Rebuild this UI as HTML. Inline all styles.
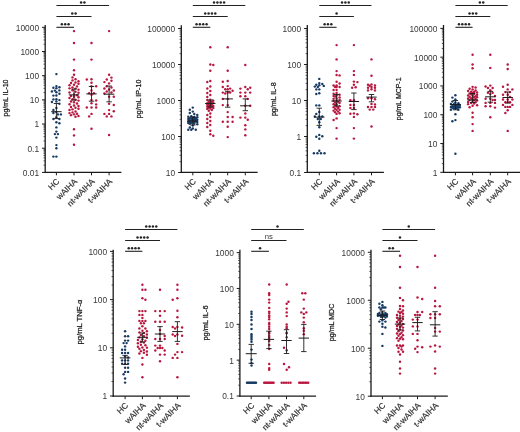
<!DOCTYPE html>
<html><head><meta charset="utf-8"><style>
html,body{margin:0;padding:0;background:#fff;}
svg{display:block;will-change:transform;}
text{font-family:"Liberation Sans", sans-serif;}
</style></head><body>
<svg width="520" height="432" viewBox="0 0 520 432">
<rect width="520" height="432" fill="#fff"/>
<line x1="45.20" y1="25.00" x2="45.20" y2="172.90" stroke="#1a1a1a" stroke-width="1.3"/>
<line x1="44.60" y1="172.30" x2="121.40" y2="172.30" stroke="#1a1a1a" stroke-width="1.3"/>
<line x1="42.00" y1="172.40" x2="45.20" y2="172.40" stroke="#1a1a1a" stroke-width="1.0"/>
<text x="39.10" y="175.80" font-size="8.4" text-anchor="end" fill="#383838">0.01</text>
<line x1="43.50" y1="165.12" x2="45.20" y2="165.12" stroke="#1a1a1a" stroke-width="0.7"/>
<line x1="43.50" y1="160.86" x2="45.20" y2="160.86" stroke="#1a1a1a" stroke-width="0.7"/>
<line x1="43.50" y1="157.84" x2="45.20" y2="157.84" stroke="#1a1a1a" stroke-width="0.7"/>
<line x1="43.50" y1="155.50" x2="45.20" y2="155.50" stroke="#1a1a1a" stroke-width="0.7"/>
<line x1="43.50" y1="153.58" x2="45.20" y2="153.58" stroke="#1a1a1a" stroke-width="0.7"/>
<line x1="43.50" y1="151.97" x2="45.20" y2="151.97" stroke="#1a1a1a" stroke-width="0.7"/>
<line x1="43.50" y1="150.56" x2="45.20" y2="150.56" stroke="#1a1a1a" stroke-width="0.7"/>
<line x1="43.50" y1="149.33" x2="45.20" y2="149.33" stroke="#1a1a1a" stroke-width="0.7"/>
<line x1="42.00" y1="148.22" x2="45.20" y2="148.22" stroke="#1a1a1a" stroke-width="1.0"/>
<text x="39.10" y="151.62" font-size="8.4" text-anchor="end" fill="#383838">0.1</text>
<line x1="43.50" y1="140.94" x2="45.20" y2="140.94" stroke="#1a1a1a" stroke-width="0.7"/>
<line x1="43.50" y1="136.68" x2="45.20" y2="136.68" stroke="#1a1a1a" stroke-width="0.7"/>
<line x1="43.50" y1="133.66" x2="45.20" y2="133.66" stroke="#1a1a1a" stroke-width="0.7"/>
<line x1="43.50" y1="131.32" x2="45.20" y2="131.32" stroke="#1a1a1a" stroke-width="0.7"/>
<line x1="43.50" y1="129.40" x2="45.20" y2="129.40" stroke="#1a1a1a" stroke-width="0.7"/>
<line x1="43.50" y1="127.79" x2="45.20" y2="127.79" stroke="#1a1a1a" stroke-width="0.7"/>
<line x1="43.50" y1="126.38" x2="45.20" y2="126.38" stroke="#1a1a1a" stroke-width="0.7"/>
<line x1="43.50" y1="125.15" x2="45.20" y2="125.15" stroke="#1a1a1a" stroke-width="0.7"/>
<line x1="42.00" y1="124.04" x2="45.20" y2="124.04" stroke="#1a1a1a" stroke-width="1.0"/>
<text x="39.10" y="127.44" font-size="8.4" text-anchor="end" fill="#383838">1</text>
<line x1="43.50" y1="116.76" x2="45.20" y2="116.76" stroke="#1a1a1a" stroke-width="0.7"/>
<line x1="43.50" y1="112.50" x2="45.20" y2="112.50" stroke="#1a1a1a" stroke-width="0.7"/>
<line x1="43.50" y1="109.48" x2="45.20" y2="109.48" stroke="#1a1a1a" stroke-width="0.7"/>
<line x1="43.50" y1="107.14" x2="45.20" y2="107.14" stroke="#1a1a1a" stroke-width="0.7"/>
<line x1="43.50" y1="105.22" x2="45.20" y2="105.22" stroke="#1a1a1a" stroke-width="0.7"/>
<line x1="43.50" y1="103.61" x2="45.20" y2="103.61" stroke="#1a1a1a" stroke-width="0.7"/>
<line x1="43.50" y1="102.20" x2="45.20" y2="102.20" stroke="#1a1a1a" stroke-width="0.7"/>
<line x1="43.50" y1="100.97" x2="45.20" y2="100.97" stroke="#1a1a1a" stroke-width="0.7"/>
<line x1="42.00" y1="99.86" x2="45.20" y2="99.86" stroke="#1a1a1a" stroke-width="1.0"/>
<text x="39.10" y="103.26" font-size="8.4" text-anchor="end" fill="#383838">10</text>
<line x1="43.50" y1="92.58" x2="45.20" y2="92.58" stroke="#1a1a1a" stroke-width="0.7"/>
<line x1="43.50" y1="88.32" x2="45.20" y2="88.32" stroke="#1a1a1a" stroke-width="0.7"/>
<line x1="43.50" y1="85.30" x2="45.20" y2="85.30" stroke="#1a1a1a" stroke-width="0.7"/>
<line x1="43.50" y1="82.96" x2="45.20" y2="82.96" stroke="#1a1a1a" stroke-width="0.7"/>
<line x1="43.50" y1="81.04" x2="45.20" y2="81.04" stroke="#1a1a1a" stroke-width="0.7"/>
<line x1="43.50" y1="79.43" x2="45.20" y2="79.43" stroke="#1a1a1a" stroke-width="0.7"/>
<line x1="43.50" y1="78.02" x2="45.20" y2="78.02" stroke="#1a1a1a" stroke-width="0.7"/>
<line x1="43.50" y1="76.79" x2="45.20" y2="76.79" stroke="#1a1a1a" stroke-width="0.7"/>
<line x1="42.00" y1="75.68" x2="45.20" y2="75.68" stroke="#1a1a1a" stroke-width="1.0"/>
<text x="39.10" y="79.08" font-size="8.4" text-anchor="end" fill="#383838">100</text>
<line x1="43.50" y1="68.40" x2="45.20" y2="68.40" stroke="#1a1a1a" stroke-width="0.7"/>
<line x1="43.50" y1="64.14" x2="45.20" y2="64.14" stroke="#1a1a1a" stroke-width="0.7"/>
<line x1="43.50" y1="61.12" x2="45.20" y2="61.12" stroke="#1a1a1a" stroke-width="0.7"/>
<line x1="43.50" y1="58.78" x2="45.20" y2="58.78" stroke="#1a1a1a" stroke-width="0.7"/>
<line x1="43.50" y1="56.86" x2="45.20" y2="56.86" stroke="#1a1a1a" stroke-width="0.7"/>
<line x1="43.50" y1="55.25" x2="45.20" y2="55.25" stroke="#1a1a1a" stroke-width="0.7"/>
<line x1="43.50" y1="53.84" x2="45.20" y2="53.84" stroke="#1a1a1a" stroke-width="0.7"/>
<line x1="43.50" y1="52.61" x2="45.20" y2="52.61" stroke="#1a1a1a" stroke-width="0.7"/>
<line x1="42.00" y1="51.50" x2="45.20" y2="51.50" stroke="#1a1a1a" stroke-width="1.0"/>
<text x="39.10" y="54.90" font-size="8.4" text-anchor="end" fill="#383838">1000</text>
<line x1="43.50" y1="44.22" x2="45.20" y2="44.22" stroke="#1a1a1a" stroke-width="0.7"/>
<line x1="43.50" y1="39.96" x2="45.20" y2="39.96" stroke="#1a1a1a" stroke-width="0.7"/>
<line x1="43.50" y1="36.94" x2="45.20" y2="36.94" stroke="#1a1a1a" stroke-width="0.7"/>
<line x1="43.50" y1="34.60" x2="45.20" y2="34.60" stroke="#1a1a1a" stroke-width="0.7"/>
<line x1="43.50" y1="32.68" x2="45.20" y2="32.68" stroke="#1a1a1a" stroke-width="0.7"/>
<line x1="43.50" y1="31.07" x2="45.20" y2="31.07" stroke="#1a1a1a" stroke-width="0.7"/>
<line x1="43.50" y1="29.66" x2="45.20" y2="29.66" stroke="#1a1a1a" stroke-width="0.7"/>
<line x1="43.50" y1="28.43" x2="45.20" y2="28.43" stroke="#1a1a1a" stroke-width="0.7"/>
<line x1="42.00" y1="27.32" x2="45.20" y2="27.32" stroke="#1a1a1a" stroke-width="1.0"/>
<text x="39.10" y="30.72" font-size="8.4" text-anchor="end" fill="#383838">10000</text>
<line x1="56.40" y1="172.30" x2="56.40" y2="175.30" stroke="#1a1a1a" stroke-width="1.0"/>
<text x="60.10" y="182.10" font-size="8.3" text-anchor="end" fill="#383838" transform="rotate(-45 60.10 182.10)" stroke="#2a2a2a" stroke-width="0.18">HC</text>
<line x1="74.00" y1="172.30" x2="74.00" y2="175.30" stroke="#1a1a1a" stroke-width="1.0"/>
<text x="77.70" y="182.10" font-size="8.3" text-anchor="end" fill="#383838" transform="rotate(-45 77.70 182.10)" stroke="#2a2a2a" stroke-width="0.18">wAIHA</text>
<line x1="91.50" y1="172.30" x2="91.50" y2="175.30" stroke="#1a1a1a" stroke-width="1.0"/>
<text x="95.20" y="182.10" font-size="8.3" text-anchor="end" fill="#383838" transform="rotate(-45 95.20 182.10)" stroke="#2a2a2a" stroke-width="0.18">nt-wAIHA</text>
<line x1="109.10" y1="172.30" x2="109.10" y2="175.30" stroke="#1a1a1a" stroke-width="1.0"/>
<text x="112.80" y="182.10" font-size="8.3" text-anchor="end" fill="#383838" transform="rotate(-45 112.80 182.10)" stroke="#2a2a2a" stroke-width="0.18">t-wAIHA</text>
<text x="7.90" y="98.00" font-size="7.9" text-anchor="middle" fill="#1a1a1a" transform="rotate(-90 7.90 98.00)" textLength="37.0" lengthAdjust="spacingAndGlyphs" stroke="#1a1a1a" stroke-width="0.25">pg/mL IL-10</text>
<line x1="56.40" y1="5.50" x2="109.10" y2="5.50" stroke="#222" stroke-width="1.1"/>
<circle cx="81.08" cy="2.50" r="1.25" fill="#262626"/>
<circle cx="84.42" cy="2.50" r="1.25" fill="#262626"/>
<line x1="56.40" y1="16.50" x2="91.50" y2="16.50" stroke="#222" stroke-width="1.1"/>
<circle cx="72.28" cy="13.50" r="1.25" fill="#262626"/>
<circle cx="75.62" cy="13.50" r="1.25" fill="#262626"/>
<line x1="56.40" y1="27.30" x2="74.00" y2="27.30" stroke="#222" stroke-width="1.1"/>
<circle cx="61.85" cy="24.30" r="1.25" fill="#262626"/>
<circle cx="65.20" cy="24.30" r="1.25" fill="#262626"/>
<circle cx="68.55" cy="24.30" r="1.25" fill="#262626"/>
<circle cx="56.40" cy="74.10" r="1.22" fill="#173a63"/>
<circle cx="56.40" cy="86.10" r="1.22" fill="#173a63"/>
<circle cx="59.40" cy="87.30" r="1.22" fill="#173a63"/>
<circle cx="53.40" cy="87.80" r="1.22" fill="#173a63"/>
<circle cx="56.40" cy="88.20" r="1.22" fill="#173a63"/>
<circle cx="59.40" cy="90.40" r="1.22" fill="#173a63"/>
<circle cx="54.90" cy="90.60" r="1.22" fill="#173a63"/>
<circle cx="51.90" cy="91.50" r="1.22" fill="#173a63"/>
<circle cx="56.40" cy="92.20" r="1.22" fill="#173a63"/>
<circle cx="59.40" cy="93.80" r="1.22" fill="#173a63"/>
<circle cx="56.40" cy="95.50" r="1.22" fill="#173a63"/>
<circle cx="53.40" cy="95.60" r="1.22" fill="#173a63"/>
<circle cx="56.40" cy="99.20" r="1.22" fill="#173a63"/>
<circle cx="53.40" cy="99.40" r="1.22" fill="#173a63"/>
<circle cx="59.40" cy="100.10" r="1.22" fill="#173a63"/>
<circle cx="56.40" cy="101.50" r="1.22" fill="#173a63"/>
<circle cx="51.90" cy="102.00" r="1.22" fill="#173a63"/>
<circle cx="59.40" cy="103.80" r="1.22" fill="#173a63"/>
<circle cx="56.40" cy="108.00" r="1.22" fill="#173a63"/>
<circle cx="53.40" cy="110.00" r="1.22" fill="#173a63"/>
<circle cx="56.40" cy="112.00" r="1.22" fill="#173a63"/>
<circle cx="53.40" cy="113.00" r="1.22" fill="#173a63"/>
<circle cx="57.90" cy="114.40" r="1.22" fill="#173a63"/>
<circle cx="60.90" cy="114.40" r="1.22" fill="#173a63"/>
<circle cx="56.40" cy="117.20" r="1.22" fill="#173a63"/>
<circle cx="53.40" cy="119.00" r="1.22" fill="#173a63"/>
<circle cx="59.40" cy="119.00" r="1.22" fill="#173a63"/>
<circle cx="56.40" cy="122.30" r="1.22" fill="#173a63"/>
<circle cx="59.40" cy="123.20" r="1.22" fill="#173a63"/>
<circle cx="56.40" cy="127.40" r="1.22" fill="#173a63"/>
<circle cx="56.40" cy="131.60" r="1.22" fill="#173a63"/>
<circle cx="54.90" cy="134.10" r="1.22" fill="#173a63"/>
<circle cx="57.90" cy="134.10" r="1.22" fill="#173a63"/>
<circle cx="56.40" cy="137.60" r="1.22" fill="#173a63"/>
<circle cx="56.40" cy="145.10" r="1.22" fill="#173a63"/>
<circle cx="56.40" cy="148.30" r="1.22" fill="#173a63"/>
<circle cx="56.40" cy="156.60" r="1.22" fill="#173a63"/>
<circle cx="53.40" cy="156.60" r="1.22" fill="#173a63"/>
<circle cx="74.00" cy="31.10" r="1.22" fill="#b8173f"/>
<circle cx="74.00" cy="43.00" r="1.22" fill="#b8173f"/>
<circle cx="74.00" cy="59.60" r="1.22" fill="#b8173f"/>
<circle cx="74.00" cy="70.20" r="1.22" fill="#b8173f"/>
<circle cx="74.00" cy="74.80" r="1.22" fill="#b8173f"/>
<circle cx="72.50" cy="77.40" r="1.22" fill="#b8173f"/>
<circle cx="75.50" cy="79.20" r="1.22" fill="#b8173f"/>
<circle cx="72.50" cy="80.39" r="1.22" fill="#b8173f"/>
<circle cx="78.50" cy="81.33" r="1.22" fill="#b8173f"/>
<circle cx="75.50" cy="82.49" r="1.22" fill="#b8173f"/>
<circle cx="71.00" cy="82.95" r="1.22" fill="#b8173f"/>
<circle cx="78.50" cy="83.84" r="1.22" fill="#b8173f"/>
<circle cx="74.00" cy="84.76" r="1.22" fill="#b8173f"/>
<circle cx="69.50" cy="85.27" r="1.22" fill="#b8173f"/>
<circle cx="77.00" cy="86.40" r="1.22" fill="#b8173f"/>
<circle cx="72.50" cy="87.36" r="1.22" fill="#b8173f"/>
<circle cx="69.50" cy="88.35" r="1.22" fill="#b8173f"/>
<circle cx="75.50" cy="88.60" r="1.22" fill="#b8173f"/>
<circle cx="78.50" cy="89.63" r="1.22" fill="#b8173f"/>
<circle cx="72.50" cy="90.30" r="1.22" fill="#b8173f"/>
<circle cx="75.50" cy="91.77" r="1.22" fill="#b8173f"/>
<circle cx="69.50" cy="92.52" r="1.22" fill="#b8173f"/>
<circle cx="78.50" cy="92.82" r="1.22" fill="#b8173f"/>
<circle cx="74.00" cy="94.47" r="1.22" fill="#b8173f"/>
<circle cx="77.00" cy="95.31" r="1.22" fill="#b8173f"/>
<circle cx="71.00" cy="95.90" r="1.22" fill="#b8173f"/>
<circle cx="74.00" cy="96.72" r="1.22" fill="#b8173f"/>
<circle cx="78.50" cy="97.18" r="1.22" fill="#b8173f"/>
<circle cx="69.50" cy="97.91" r="1.22" fill="#b8173f"/>
<circle cx="72.50" cy="99.20" r="1.22" fill="#b8173f"/>
<circle cx="75.50" cy="99.65" r="1.22" fill="#b8173f"/>
<circle cx="78.50" cy="100.62" r="1.22" fill="#b8173f"/>
<circle cx="71.00" cy="101.51" r="1.22" fill="#b8173f"/>
<circle cx="74.00" cy="102.18" r="1.22" fill="#b8173f"/>
<circle cx="77.00" cy="103.41" r="1.22" fill="#b8173f"/>
<circle cx="69.50" cy="104.24" r="1.22" fill="#b8173f"/>
<circle cx="74.00" cy="105.43" r="1.22" fill="#b8173f"/>
<circle cx="78.50" cy="106.01" r="1.22" fill="#b8173f"/>
<circle cx="71.00" cy="106.97" r="1.22" fill="#b8173f"/>
<circle cx="75.50" cy="107.70" r="1.22" fill="#b8173f"/>
<circle cx="78.50" cy="108.69" r="1.22" fill="#b8173f"/>
<circle cx="72.50" cy="109.37" r="1.22" fill="#b8173f"/>
<circle cx="69.50" cy="110.07" r="1.22" fill="#b8173f"/>
<circle cx="75.50" cy="111.53" r="1.22" fill="#b8173f"/>
<circle cx="72.50" cy="112.38" r="1.22" fill="#b8173f"/>
<circle cx="69.50" cy="113.10" r="1.22" fill="#b8173f"/>
<circle cx="77.00" cy="113.84" r="1.22" fill="#b8173f"/>
<circle cx="74.00" cy="114.36" r="1.22" fill="#b8173f"/>
<circle cx="71.00" cy="115.14" r="1.22" fill="#b8173f"/>
<circle cx="78.50" cy="116.04" r="1.22" fill="#b8173f"/>
<circle cx="75.50" cy="116.71" r="1.22" fill="#b8173f"/>
<circle cx="74.00" cy="129.20" r="1.22" fill="#b8173f"/>
<circle cx="74.00" cy="135.40" r="1.22" fill="#b8173f"/>
<circle cx="74.00" cy="144.80" r="1.22" fill="#b8173f"/>
<circle cx="91.50" cy="43.00" r="1.22" fill="#b8173f"/>
<circle cx="91.50" cy="59.60" r="1.22" fill="#b8173f"/>
<circle cx="91.50" cy="79.20" r="1.22" fill="#b8173f"/>
<circle cx="86.80" cy="79.50" r="1.22" fill="#b8173f"/>
<circle cx="91.50" cy="82.70" r="1.22" fill="#b8173f"/>
<circle cx="91.50" cy="86.30" r="1.22" fill="#b8173f"/>
<circle cx="96.20" cy="86.30" r="1.22" fill="#b8173f"/>
<circle cx="91.50" cy="90.40" r="1.22" fill="#b8173f"/>
<circle cx="93.85" cy="93.30" r="1.22" fill="#b8173f"/>
<circle cx="89.15" cy="93.30" r="1.22" fill="#b8173f"/>
<circle cx="91.50" cy="94.80" r="1.22" fill="#b8173f"/>
<circle cx="91.50" cy="99.90" r="1.22" fill="#b8173f"/>
<circle cx="96.20" cy="100.50" r="1.22" fill="#b8173f"/>
<circle cx="91.50" cy="103.30" r="1.22" fill="#b8173f"/>
<circle cx="96.20" cy="104.40" r="1.22" fill="#b8173f"/>
<circle cx="91.50" cy="107.50" r="1.22" fill="#b8173f"/>
<circle cx="86.80" cy="107.50" r="1.22" fill="#b8173f"/>
<circle cx="96.20" cy="107.50" r="1.22" fill="#b8173f"/>
<circle cx="91.50" cy="113.90" r="1.22" fill="#b8173f"/>
<circle cx="89.15" cy="116.40" r="1.22" fill="#b8173f"/>
<circle cx="91.50" cy="128.75" r="1.22" fill="#b8173f"/>
<circle cx="109.10" cy="31.10" r="1.22" fill="#b8173f"/>
<circle cx="109.10" cy="74.80" r="1.22" fill="#b8173f"/>
<circle cx="111.45" cy="77.60" r="1.22" fill="#b8173f"/>
<circle cx="106.75" cy="79.50" r="1.22" fill="#b8173f"/>
<circle cx="111.45" cy="80.80" r="1.22" fill="#b8173f"/>
<circle cx="104.40" cy="82.10" r="1.22" fill="#b8173f"/>
<circle cx="109.10" cy="83.40" r="1.22" fill="#b8173f"/>
<circle cx="106.75" cy="86.30" r="1.22" fill="#b8173f"/>
<circle cx="111.45" cy="87.50" r="1.22" fill="#b8173f"/>
<circle cx="104.40" cy="88.50" r="1.22" fill="#b8173f"/>
<circle cx="109.10" cy="89.50" r="1.22" fill="#b8173f"/>
<circle cx="113.80" cy="90.50" r="1.22" fill="#b8173f"/>
<circle cx="106.75" cy="91.50" r="1.22" fill="#b8173f"/>
<circle cx="111.45" cy="92.50" r="1.22" fill="#b8173f"/>
<circle cx="104.40" cy="93.50" r="1.22" fill="#b8173f"/>
<circle cx="109.10" cy="96.70" r="1.22" fill="#b8173f"/>
<circle cx="113.80" cy="96.70" r="1.22" fill="#b8173f"/>
<circle cx="109.10" cy="103.70" r="1.22" fill="#b8173f"/>
<circle cx="113.80" cy="105.00" r="1.22" fill="#b8173f"/>
<circle cx="109.10" cy="110.10" r="1.22" fill="#b8173f"/>
<circle cx="113.80" cy="111.30" r="1.22" fill="#b8173f"/>
<circle cx="109.10" cy="113.90" r="1.22" fill="#b8173f"/>
<circle cx="104.40" cy="113.90" r="1.22" fill="#b8173f"/>
<circle cx="106.75" cy="116.40" r="1.22" fill="#b8173f"/>
<circle cx="111.45" cy="116.40" r="1.22" fill="#b8173f"/>
<circle cx="109.10" cy="135.00" r="1.22" fill="#b8173f"/>
<line x1="56.40" y1="103.50" x2="56.40" y2="118.60" stroke="#1c1c1c" stroke-width="0.9"/>
<line x1="53.70" y1="103.50" x2="59.10" y2="103.50" stroke="#1c1c1c" stroke-width="0.9"/>
<line x1="53.70" y1="118.60" x2="59.10" y2="118.60" stroke="#1c1c1c" stroke-width="0.9"/>
<line x1="51.20" y1="111.70" x2="61.60" y2="111.70" stroke="#1c1c1c" stroke-width="1.0"/>
<line x1="74.00" y1="89.00" x2="74.00" y2="100.10" stroke="#1c1c1c" stroke-width="0.9"/>
<line x1="71.30" y1="89.00" x2="76.70" y2="89.00" stroke="#1c1c1c" stroke-width="0.9"/>
<line x1="71.30" y1="100.10" x2="76.70" y2="100.10" stroke="#1c1c1c" stroke-width="0.9"/>
<line x1="68.80" y1="94.90" x2="79.20" y2="94.90" stroke="#1c1c1c" stroke-width="1.0"/>
<line x1="91.50" y1="86.50" x2="91.50" y2="101.20" stroke="#1c1c1c" stroke-width="0.9"/>
<line x1="88.80" y1="86.50" x2="94.20" y2="86.50" stroke="#1c1c1c" stroke-width="0.9"/>
<line x1="88.80" y1="101.20" x2="94.20" y2="101.20" stroke="#1c1c1c" stroke-width="0.9"/>
<line x1="86.30" y1="93.90" x2="96.70" y2="93.90" stroke="#1c1c1c" stroke-width="1.0"/>
<line x1="109.10" y1="86.00" x2="109.10" y2="101.80" stroke="#1c1c1c" stroke-width="0.9"/>
<line x1="106.40" y1="86.00" x2="111.80" y2="86.00" stroke="#1c1c1c" stroke-width="0.9"/>
<line x1="106.40" y1="101.80" x2="111.80" y2="101.80" stroke="#1c1c1c" stroke-width="0.9"/>
<line x1="103.90" y1="94.20" x2="114.30" y2="94.20" stroke="#1c1c1c" stroke-width="1.0"/>
<line x1="181.30" y1="25.20" x2="181.30" y2="172.90" stroke="#1a1a1a" stroke-width="1.3"/>
<line x1="180.70" y1="172.30" x2="257.60" y2="172.30" stroke="#1a1a1a" stroke-width="1.3"/>
<line x1="178.10" y1="172.50" x2="181.30" y2="172.50" stroke="#1a1a1a" stroke-width="1.0"/>
<text x="175.20" y="175.90" font-size="8.4" text-anchor="end" fill="#383838">10</text>
<line x1="179.60" y1="161.66" x2="181.30" y2="161.66" stroke="#1a1a1a" stroke-width="0.7"/>
<line x1="179.60" y1="155.32" x2="181.30" y2="155.32" stroke="#1a1a1a" stroke-width="0.7"/>
<line x1="179.60" y1="150.83" x2="181.30" y2="150.83" stroke="#1a1a1a" stroke-width="0.7"/>
<line x1="179.60" y1="147.34" x2="181.30" y2="147.34" stroke="#1a1a1a" stroke-width="0.7"/>
<line x1="179.60" y1="144.49" x2="181.30" y2="144.49" stroke="#1a1a1a" stroke-width="0.7"/>
<line x1="179.60" y1="142.08" x2="181.30" y2="142.08" stroke="#1a1a1a" stroke-width="0.7"/>
<line x1="179.60" y1="139.99" x2="181.30" y2="139.99" stroke="#1a1a1a" stroke-width="0.7"/>
<line x1="179.60" y1="138.15" x2="181.30" y2="138.15" stroke="#1a1a1a" stroke-width="0.7"/>
<line x1="178.10" y1="136.50" x2="181.30" y2="136.50" stroke="#1a1a1a" stroke-width="1.0"/>
<text x="175.20" y="139.90" font-size="8.4" text-anchor="end" fill="#383838">100</text>
<line x1="179.60" y1="125.66" x2="181.30" y2="125.66" stroke="#1a1a1a" stroke-width="0.7"/>
<line x1="179.60" y1="119.32" x2="181.30" y2="119.32" stroke="#1a1a1a" stroke-width="0.7"/>
<line x1="179.60" y1="114.83" x2="181.30" y2="114.83" stroke="#1a1a1a" stroke-width="0.7"/>
<line x1="179.60" y1="111.34" x2="181.30" y2="111.34" stroke="#1a1a1a" stroke-width="0.7"/>
<line x1="179.60" y1="108.49" x2="181.30" y2="108.49" stroke="#1a1a1a" stroke-width="0.7"/>
<line x1="179.60" y1="106.08" x2="181.30" y2="106.08" stroke="#1a1a1a" stroke-width="0.7"/>
<line x1="179.60" y1="103.99" x2="181.30" y2="103.99" stroke="#1a1a1a" stroke-width="0.7"/>
<line x1="179.60" y1="102.15" x2="181.30" y2="102.15" stroke="#1a1a1a" stroke-width="0.7"/>
<line x1="178.10" y1="100.50" x2="181.30" y2="100.50" stroke="#1a1a1a" stroke-width="1.0"/>
<text x="175.20" y="103.90" font-size="8.4" text-anchor="end" fill="#383838">1000</text>
<line x1="179.60" y1="89.66" x2="181.30" y2="89.66" stroke="#1a1a1a" stroke-width="0.7"/>
<line x1="179.60" y1="83.32" x2="181.30" y2="83.32" stroke="#1a1a1a" stroke-width="0.7"/>
<line x1="179.60" y1="78.83" x2="181.30" y2="78.83" stroke="#1a1a1a" stroke-width="0.7"/>
<line x1="179.60" y1="75.34" x2="181.30" y2="75.34" stroke="#1a1a1a" stroke-width="0.7"/>
<line x1="179.60" y1="72.49" x2="181.30" y2="72.49" stroke="#1a1a1a" stroke-width="0.7"/>
<line x1="179.60" y1="70.08" x2="181.30" y2="70.08" stroke="#1a1a1a" stroke-width="0.7"/>
<line x1="179.60" y1="67.99" x2="181.30" y2="67.99" stroke="#1a1a1a" stroke-width="0.7"/>
<line x1="179.60" y1="66.15" x2="181.30" y2="66.15" stroke="#1a1a1a" stroke-width="0.7"/>
<line x1="178.10" y1="64.50" x2="181.30" y2="64.50" stroke="#1a1a1a" stroke-width="1.0"/>
<text x="175.20" y="67.90" font-size="8.4" text-anchor="end" fill="#383838">10000</text>
<line x1="179.60" y1="53.66" x2="181.30" y2="53.66" stroke="#1a1a1a" stroke-width="0.7"/>
<line x1="179.60" y1="47.32" x2="181.30" y2="47.32" stroke="#1a1a1a" stroke-width="0.7"/>
<line x1="179.60" y1="42.83" x2="181.30" y2="42.83" stroke="#1a1a1a" stroke-width="0.7"/>
<line x1="179.60" y1="39.34" x2="181.30" y2="39.34" stroke="#1a1a1a" stroke-width="0.7"/>
<line x1="179.60" y1="36.49" x2="181.30" y2="36.49" stroke="#1a1a1a" stroke-width="0.7"/>
<line x1="179.60" y1="34.08" x2="181.30" y2="34.08" stroke="#1a1a1a" stroke-width="0.7"/>
<line x1="179.60" y1="31.99" x2="181.30" y2="31.99" stroke="#1a1a1a" stroke-width="0.7"/>
<line x1="179.60" y1="30.15" x2="181.30" y2="30.15" stroke="#1a1a1a" stroke-width="0.7"/>
<line x1="178.10" y1="28.50" x2="181.30" y2="28.50" stroke="#1a1a1a" stroke-width="1.0"/>
<text x="175.20" y="31.90" font-size="8.4" text-anchor="end" fill="#383838">100000</text>
<line x1="192.80" y1="172.30" x2="192.80" y2="175.30" stroke="#1a1a1a" stroke-width="1.0"/>
<text x="196.50" y="182.10" font-size="8.3" text-anchor="end" fill="#383838" transform="rotate(-45 196.50 182.10)" stroke="#2a2a2a" stroke-width="0.18">HC</text>
<line x1="210.30" y1="172.30" x2="210.30" y2="175.30" stroke="#1a1a1a" stroke-width="1.0"/>
<text x="214.00" y="182.10" font-size="8.3" text-anchor="end" fill="#383838" transform="rotate(-45 214.00 182.10)" stroke="#2a2a2a" stroke-width="0.18">wAIHA</text>
<line x1="227.70" y1="172.30" x2="227.70" y2="175.30" stroke="#1a1a1a" stroke-width="1.0"/>
<text x="231.40" y="182.10" font-size="8.3" text-anchor="end" fill="#383838" transform="rotate(-45 231.40 182.10)" stroke="#2a2a2a" stroke-width="0.18">nt-wAIHA</text>
<line x1="245.30" y1="172.30" x2="245.30" y2="175.30" stroke="#1a1a1a" stroke-width="1.0"/>
<text x="249.00" y="182.10" font-size="8.3" text-anchor="end" fill="#383838" transform="rotate(-45 249.00 182.10)" stroke="#2a2a2a" stroke-width="0.18">t-wAIHA</text>
<text x="140.60" y="98.90" font-size="7.9" text-anchor="middle" fill="#1a1a1a" transform="rotate(-90 140.60 98.90)" textLength="38.6" lengthAdjust="spacingAndGlyphs" stroke="#1a1a1a" stroke-width="0.25">pg/mL IP-10</text>
<line x1="192.80" y1="5.50" x2="245.30" y2="5.50" stroke="#222" stroke-width="1.1"/>
<circle cx="214.03" cy="2.50" r="1.25" fill="#262626"/>
<circle cx="217.38" cy="2.50" r="1.25" fill="#262626"/>
<circle cx="220.73" cy="2.50" r="1.25" fill="#262626"/>
<circle cx="224.08" cy="2.50" r="1.25" fill="#262626"/>
<line x1="192.80" y1="16.50" x2="227.70" y2="16.50" stroke="#222" stroke-width="1.1"/>
<circle cx="205.22" cy="13.50" r="1.25" fill="#262626"/>
<circle cx="208.57" cy="13.50" r="1.25" fill="#262626"/>
<circle cx="211.93" cy="13.50" r="1.25" fill="#262626"/>
<circle cx="215.28" cy="13.50" r="1.25" fill="#262626"/>
<line x1="192.80" y1="27.30" x2="210.30" y2="27.30" stroke="#222" stroke-width="1.1"/>
<circle cx="196.53" cy="24.30" r="1.25" fill="#262626"/>
<circle cx="199.88" cy="24.30" r="1.25" fill="#262626"/>
<circle cx="203.23" cy="24.30" r="1.25" fill="#262626"/>
<circle cx="206.58" cy="24.30" r="1.25" fill="#262626"/>
<circle cx="192.80" cy="107.60" r="1.22" fill="#173a63"/>
<circle cx="189.80" cy="109.80" r="1.22" fill="#173a63"/>
<circle cx="192.80" cy="111.60" r="1.22" fill="#173a63"/>
<circle cx="189.80" cy="113.00" r="1.22" fill="#173a63"/>
<circle cx="194.30" cy="114.00" r="1.22" fill="#173a63"/>
<circle cx="197.30" cy="115.04" r="1.22" fill="#173a63"/>
<circle cx="191.30" cy="116.25" r="1.22" fill="#173a63"/>
<circle cx="188.30" cy="116.70" r="1.22" fill="#173a63"/>
<circle cx="194.30" cy="117.04" r="1.22" fill="#173a63"/>
<circle cx="197.30" cy="117.31" r="1.22" fill="#173a63"/>
<circle cx="192.80" cy="117.83" r="1.22" fill="#173a63"/>
<circle cx="189.80" cy="118.14" r="1.22" fill="#173a63"/>
<circle cx="195.80" cy="118.34" r="1.22" fill="#173a63"/>
<circle cx="191.30" cy="118.61" r="1.22" fill="#173a63"/>
<circle cx="194.30" cy="118.81" r="1.22" fill="#173a63"/>
<circle cx="188.30" cy="119.01" r="1.22" fill="#173a63"/>
<circle cx="192.80" cy="119.36" r="1.22" fill="#173a63"/>
<circle cx="197.30" cy="119.66" r="1.22" fill="#173a63"/>
<circle cx="195.80" cy="119.78" r="1.22" fill="#173a63"/>
<circle cx="189.80" cy="120.20" r="1.22" fill="#173a63"/>
<circle cx="194.30" cy="120.31" r="1.22" fill="#173a63"/>
<circle cx="191.30" cy="120.55" r="1.22" fill="#173a63"/>
<circle cx="192.80" cy="120.75" r="1.22" fill="#173a63"/>
<circle cx="188.30" cy="121.24" r="1.22" fill="#173a63"/>
<circle cx="195.80" cy="121.43" r="1.22" fill="#173a63"/>
<circle cx="194.30" cy="121.72" r="1.22" fill="#173a63"/>
<circle cx="189.80" cy="121.92" r="1.22" fill="#173a63"/>
<circle cx="197.30" cy="122.04" r="1.22" fill="#173a63"/>
<circle cx="192.80" cy="122.40" r="1.22" fill="#173a63"/>
<circle cx="191.30" cy="122.76" r="1.22" fill="#173a63"/>
<circle cx="188.30" cy="122.96" r="1.22" fill="#173a63"/>
<circle cx="194.30" cy="123.62" r="1.22" fill="#173a63"/>
<circle cx="189.80" cy="123.80" r="1.22" fill="#173a63"/>
<circle cx="197.30" cy="124.17" r="1.22" fill="#173a63"/>
<circle cx="192.80" cy="125.43" r="1.22" fill="#173a63"/>
<circle cx="189.80" cy="127.50" r="1.22" fill="#173a63"/>
<circle cx="192.80" cy="128.50" r="1.22" fill="#173a63"/>
<circle cx="195.80" cy="129.80" r="1.22" fill="#173a63"/>
<circle cx="188.30" cy="129.80" r="1.22" fill="#173a63"/>
<circle cx="191.30" cy="129.80" r="1.22" fill="#173a63"/>
<circle cx="210.30" cy="47.20" r="1.22" fill="#b8173f"/>
<circle cx="210.30" cy="64.50" r="1.22" fill="#b8173f"/>
<circle cx="213.30" cy="65.00" r="1.22" fill="#b8173f"/>
<circle cx="210.30" cy="70.80" r="1.22" fill="#b8173f"/>
<circle cx="210.30" cy="81.00" r="1.22" fill="#b8173f"/>
<circle cx="207.30" cy="82.00" r="1.22" fill="#b8173f"/>
<circle cx="210.30" cy="86.50" r="1.22" fill="#b8173f"/>
<circle cx="207.30" cy="88.50" r="1.22" fill="#b8173f"/>
<circle cx="210.30" cy="91.00" r="1.22" fill="#b8173f"/>
<circle cx="207.30" cy="93.00" r="1.22" fill="#b8173f"/>
<circle cx="210.30" cy="95.00" r="1.22" fill="#b8173f"/>
<circle cx="207.30" cy="97.00" r="1.22" fill="#b8173f"/>
<circle cx="210.30" cy="99.79" r="1.22" fill="#b8173f"/>
<circle cx="207.30" cy="99.96" r="1.22" fill="#b8173f"/>
<circle cx="213.30" cy="100.63" r="1.22" fill="#b8173f"/>
<circle cx="208.80" cy="101.75" r="1.22" fill="#b8173f"/>
<circle cx="211.80" cy="101.84" r="1.22" fill="#b8173f"/>
<circle cx="210.30" cy="102.28" r="1.22" fill="#b8173f"/>
<circle cx="213.30" cy="102.94" r="1.22" fill="#b8173f"/>
<circle cx="207.30" cy="103.22" r="1.22" fill="#b8173f"/>
<circle cx="210.30" cy="103.83" r="1.22" fill="#b8173f"/>
<circle cx="208.80" cy="103.96" r="1.22" fill="#b8173f"/>
<circle cx="211.80" cy="104.61" r="1.22" fill="#b8173f"/>
<circle cx="207.30" cy="104.75" r="1.22" fill="#b8173f"/>
<circle cx="210.30" cy="105.22" r="1.22" fill="#b8173f"/>
<circle cx="208.80" cy="105.72" r="1.22" fill="#b8173f"/>
<circle cx="213.30" cy="106.01" r="1.22" fill="#b8173f"/>
<circle cx="211.80" cy="106.48" r="1.22" fill="#b8173f"/>
<circle cx="207.30" cy="106.80" r="1.22" fill="#b8173f"/>
<circle cx="210.30" cy="106.94" r="1.22" fill="#b8173f"/>
<circle cx="208.80" cy="107.72" r="1.22" fill="#b8173f"/>
<circle cx="213.30" cy="108.05" r="1.22" fill="#b8173f"/>
<circle cx="210.30" cy="108.41" r="1.22" fill="#b8173f"/>
<circle cx="207.30" cy="108.89" r="1.22" fill="#b8173f"/>
<circle cx="211.80" cy="110.03" r="1.22" fill="#b8173f"/>
<circle cx="208.80" cy="110.82" r="1.22" fill="#b8173f"/>
<circle cx="210.30" cy="113.50" r="1.22" fill="#b8173f"/>
<circle cx="207.30" cy="115.00" r="1.22" fill="#b8173f"/>
<circle cx="210.30" cy="117.00" r="1.22" fill="#b8173f"/>
<circle cx="207.30" cy="119.00" r="1.22" fill="#b8173f"/>
<circle cx="210.30" cy="121.00" r="1.22" fill="#b8173f"/>
<circle cx="207.30" cy="123.00" r="1.22" fill="#b8173f"/>
<circle cx="210.30" cy="125.00" r="1.22" fill="#b8173f"/>
<circle cx="207.30" cy="127.00" r="1.22" fill="#b8173f"/>
<circle cx="210.30" cy="130.80" r="1.22" fill="#b8173f"/>
<circle cx="210.30" cy="134.30" r="1.22" fill="#b8173f"/>
<circle cx="213.30" cy="135.70" r="1.22" fill="#b8173f"/>
<circle cx="227.70" cy="47.20" r="1.22" fill="#b8173f"/>
<circle cx="227.70" cy="70.80" r="1.22" fill="#b8173f"/>
<circle cx="227.70" cy="81.00" r="1.22" fill="#b8173f"/>
<circle cx="222.80" cy="81.70" r="1.22" fill="#b8173f"/>
<circle cx="227.70" cy="86.10" r="1.22" fill="#b8173f"/>
<circle cx="222.80" cy="87.00" r="1.22" fill="#b8173f"/>
<circle cx="230.15" cy="88.60" r="1.22" fill="#b8173f"/>
<circle cx="225.25" cy="89.20" r="1.22" fill="#b8173f"/>
<circle cx="227.70" cy="89.20" r="1.22" fill="#b8173f"/>
<circle cx="232.60" cy="90.70" r="1.22" fill="#b8173f"/>
<circle cx="227.70" cy="92.50" r="1.22" fill="#b8173f"/>
<circle cx="222.80" cy="92.60" r="1.22" fill="#b8173f"/>
<circle cx="230.15" cy="92.60" r="1.22" fill="#b8173f"/>
<circle cx="225.25" cy="93.50" r="1.22" fill="#b8173f"/>
<circle cx="227.70" cy="98.90" r="1.22" fill="#b8173f"/>
<circle cx="222.80" cy="98.90" r="1.22" fill="#b8173f"/>
<circle cx="227.70" cy="105.10" r="1.22" fill="#b8173f"/>
<circle cx="222.80" cy="105.10" r="1.22" fill="#b8173f"/>
<circle cx="227.70" cy="112.10" r="1.22" fill="#b8173f"/>
<circle cx="227.70" cy="117.00" r="1.22" fill="#b8173f"/>
<circle cx="232.60" cy="117.00" r="1.22" fill="#b8173f"/>
<circle cx="227.70" cy="121.80" r="1.22" fill="#b8173f"/>
<circle cx="232.60" cy="121.80" r="1.22" fill="#b8173f"/>
<circle cx="222.80" cy="121.80" r="1.22" fill="#b8173f"/>
<circle cx="227.70" cy="126.70" r="1.22" fill="#b8173f"/>
<circle cx="227.70" cy="137.10" r="1.22" fill="#b8173f"/>
<circle cx="245.30" cy="65.00" r="1.22" fill="#b8173f"/>
<circle cx="245.30" cy="87.00" r="1.22" fill="#b8173f"/>
<circle cx="250.20" cy="87.80" r="1.22" fill="#b8173f"/>
<circle cx="240.40" cy="88.60" r="1.22" fill="#b8173f"/>
<circle cx="247.75" cy="89.30" r="1.22" fill="#b8173f"/>
<circle cx="245.30" cy="92.60" r="1.22" fill="#b8173f"/>
<circle cx="250.20" cy="92.60" r="1.22" fill="#b8173f"/>
<circle cx="240.40" cy="92.60" r="1.22" fill="#b8173f"/>
<circle cx="245.30" cy="96.25" r="1.22" fill="#b8173f"/>
<circle cx="240.40" cy="96.25" r="1.22" fill="#b8173f"/>
<circle cx="247.75" cy="98.90" r="1.22" fill="#b8173f"/>
<circle cx="245.30" cy="105.80" r="1.22" fill="#b8173f"/>
<circle cx="250.20" cy="105.80" r="1.22" fill="#b8173f"/>
<circle cx="245.30" cy="113.50" r="1.22" fill="#b8173f"/>
<circle cx="245.30" cy="117.60" r="1.22" fill="#b8173f"/>
<circle cx="240.40" cy="117.60" r="1.22" fill="#b8173f"/>
<circle cx="247.75" cy="119.70" r="1.22" fill="#b8173f"/>
<circle cx="245.30" cy="125.30" r="1.22" fill="#b8173f"/>
<circle cx="245.30" cy="129.40" r="1.22" fill="#b8173f"/>
<circle cx="245.30" cy="135.30" r="1.22" fill="#b8173f"/>
<line x1="192.80" y1="117.00" x2="192.80" y2="125.00" stroke="#1c1c1c" stroke-width="0.9"/>
<line x1="190.10" y1="117.00" x2="195.50" y2="117.00" stroke="#1c1c1c" stroke-width="0.9"/>
<line x1="190.10" y1="125.00" x2="195.50" y2="125.00" stroke="#1c1c1c" stroke-width="0.9"/>
<line x1="187.60" y1="121.00" x2="198.00" y2="121.00" stroke="#1c1c1c" stroke-width="1.0"/>
<line x1="210.30" y1="100.00" x2="210.30" y2="107.00" stroke="#1c1c1c" stroke-width="0.9"/>
<line x1="207.60" y1="100.00" x2="213.00" y2="100.00" stroke="#1c1c1c" stroke-width="0.9"/>
<line x1="207.60" y1="107.00" x2="213.00" y2="107.00" stroke="#1c1c1c" stroke-width="0.9"/>
<line x1="205.10" y1="103.50" x2="215.50" y2="103.50" stroke="#1c1c1c" stroke-width="1.0"/>
<line x1="227.70" y1="91.30" x2="227.70" y2="107.20" stroke="#1c1c1c" stroke-width="0.9"/>
<line x1="225.00" y1="91.30" x2="230.40" y2="91.30" stroke="#1c1c1c" stroke-width="0.9"/>
<line x1="225.00" y1="107.20" x2="230.40" y2="107.20" stroke="#1c1c1c" stroke-width="0.9"/>
<line x1="222.50" y1="98.90" x2="232.90" y2="98.90" stroke="#1c1c1c" stroke-width="1.0"/>
<line x1="245.30" y1="98.90" x2="245.30" y2="110.70" stroke="#1c1c1c" stroke-width="0.9"/>
<line x1="242.60" y1="98.90" x2="248.00" y2="98.90" stroke="#1c1c1c" stroke-width="0.9"/>
<line x1="242.60" y1="110.70" x2="248.00" y2="110.70" stroke="#1c1c1c" stroke-width="0.9"/>
<line x1="240.10" y1="105.80" x2="250.50" y2="105.80" stroke="#1c1c1c" stroke-width="1.0"/>
<line x1="307.30" y1="25.00" x2="307.30" y2="172.90" stroke="#1a1a1a" stroke-width="1.3"/>
<line x1="306.70" y1="172.30" x2="383.90" y2="172.30" stroke="#1a1a1a" stroke-width="1.3"/>
<line x1="304.10" y1="172.50" x2="307.30" y2="172.50" stroke="#1a1a1a" stroke-width="1.0"/>
<text x="301.20" y="175.90" font-size="8.4" text-anchor="end" fill="#383838">0.1</text>
<line x1="305.60" y1="161.66" x2="307.30" y2="161.66" stroke="#1a1a1a" stroke-width="0.7"/>
<line x1="305.60" y1="155.32" x2="307.30" y2="155.32" stroke="#1a1a1a" stroke-width="0.7"/>
<line x1="305.60" y1="150.83" x2="307.30" y2="150.83" stroke="#1a1a1a" stroke-width="0.7"/>
<line x1="305.60" y1="147.34" x2="307.30" y2="147.34" stroke="#1a1a1a" stroke-width="0.7"/>
<line x1="305.60" y1="144.49" x2="307.30" y2="144.49" stroke="#1a1a1a" stroke-width="0.7"/>
<line x1="305.60" y1="142.08" x2="307.30" y2="142.08" stroke="#1a1a1a" stroke-width="0.7"/>
<line x1="305.60" y1="139.99" x2="307.30" y2="139.99" stroke="#1a1a1a" stroke-width="0.7"/>
<line x1="305.60" y1="138.15" x2="307.30" y2="138.15" stroke="#1a1a1a" stroke-width="0.7"/>
<line x1="304.10" y1="136.50" x2="307.30" y2="136.50" stroke="#1a1a1a" stroke-width="1.0"/>
<text x="301.20" y="139.90" font-size="8.4" text-anchor="end" fill="#383838">1</text>
<line x1="305.60" y1="125.66" x2="307.30" y2="125.66" stroke="#1a1a1a" stroke-width="0.7"/>
<line x1="305.60" y1="119.32" x2="307.30" y2="119.32" stroke="#1a1a1a" stroke-width="0.7"/>
<line x1="305.60" y1="114.83" x2="307.30" y2="114.83" stroke="#1a1a1a" stroke-width="0.7"/>
<line x1="305.60" y1="111.34" x2="307.30" y2="111.34" stroke="#1a1a1a" stroke-width="0.7"/>
<line x1="305.60" y1="108.49" x2="307.30" y2="108.49" stroke="#1a1a1a" stroke-width="0.7"/>
<line x1="305.60" y1="106.08" x2="307.30" y2="106.08" stroke="#1a1a1a" stroke-width="0.7"/>
<line x1="305.60" y1="103.99" x2="307.30" y2="103.99" stroke="#1a1a1a" stroke-width="0.7"/>
<line x1="305.60" y1="102.15" x2="307.30" y2="102.15" stroke="#1a1a1a" stroke-width="0.7"/>
<line x1="304.10" y1="100.50" x2="307.30" y2="100.50" stroke="#1a1a1a" stroke-width="1.0"/>
<text x="301.20" y="103.90" font-size="8.4" text-anchor="end" fill="#383838">10</text>
<line x1="305.60" y1="89.66" x2="307.30" y2="89.66" stroke="#1a1a1a" stroke-width="0.7"/>
<line x1="305.60" y1="83.32" x2="307.30" y2="83.32" stroke="#1a1a1a" stroke-width="0.7"/>
<line x1="305.60" y1="78.83" x2="307.30" y2="78.83" stroke="#1a1a1a" stroke-width="0.7"/>
<line x1="305.60" y1="75.34" x2="307.30" y2="75.34" stroke="#1a1a1a" stroke-width="0.7"/>
<line x1="305.60" y1="72.49" x2="307.30" y2="72.49" stroke="#1a1a1a" stroke-width="0.7"/>
<line x1="305.60" y1="70.08" x2="307.30" y2="70.08" stroke="#1a1a1a" stroke-width="0.7"/>
<line x1="305.60" y1="67.99" x2="307.30" y2="67.99" stroke="#1a1a1a" stroke-width="0.7"/>
<line x1="305.60" y1="66.15" x2="307.30" y2="66.15" stroke="#1a1a1a" stroke-width="0.7"/>
<line x1="304.10" y1="64.50" x2="307.30" y2="64.50" stroke="#1a1a1a" stroke-width="1.0"/>
<text x="301.20" y="67.90" font-size="8.4" text-anchor="end" fill="#383838">100</text>
<line x1="305.60" y1="53.66" x2="307.30" y2="53.66" stroke="#1a1a1a" stroke-width="0.7"/>
<line x1="305.60" y1="47.32" x2="307.30" y2="47.32" stroke="#1a1a1a" stroke-width="0.7"/>
<line x1="305.60" y1="42.83" x2="307.30" y2="42.83" stroke="#1a1a1a" stroke-width="0.7"/>
<line x1="305.60" y1="39.34" x2="307.30" y2="39.34" stroke="#1a1a1a" stroke-width="0.7"/>
<line x1="305.60" y1="36.49" x2="307.30" y2="36.49" stroke="#1a1a1a" stroke-width="0.7"/>
<line x1="305.60" y1="34.08" x2="307.30" y2="34.08" stroke="#1a1a1a" stroke-width="0.7"/>
<line x1="305.60" y1="31.99" x2="307.30" y2="31.99" stroke="#1a1a1a" stroke-width="0.7"/>
<line x1="305.60" y1="30.15" x2="307.30" y2="30.15" stroke="#1a1a1a" stroke-width="0.7"/>
<line x1="304.10" y1="28.50" x2="307.30" y2="28.50" stroke="#1a1a1a" stroke-width="1.0"/>
<text x="301.20" y="31.90" font-size="8.4" text-anchor="end" fill="#383838">1000</text>
<line x1="319.30" y1="172.30" x2="319.30" y2="175.30" stroke="#1a1a1a" stroke-width="1.0"/>
<text x="323.00" y="182.10" font-size="8.3" text-anchor="end" fill="#383838" transform="rotate(-45 323.00 182.10)" stroke="#2a2a2a" stroke-width="0.18">HC</text>
<line x1="336.60" y1="172.30" x2="336.60" y2="175.30" stroke="#1a1a1a" stroke-width="1.0"/>
<text x="340.30" y="182.10" font-size="8.3" text-anchor="end" fill="#383838" transform="rotate(-45 340.30 182.10)" stroke="#2a2a2a" stroke-width="0.18">wAIHA</text>
<line x1="353.90" y1="172.30" x2="353.90" y2="175.30" stroke="#1a1a1a" stroke-width="1.0"/>
<text x="357.60" y="182.10" font-size="8.3" text-anchor="end" fill="#383838" transform="rotate(-45 357.60 182.10)" stroke="#2a2a2a" stroke-width="0.18">nt-wAIHA</text>
<line x1="371.50" y1="172.30" x2="371.50" y2="175.30" stroke="#1a1a1a" stroke-width="1.0"/>
<text x="375.20" y="182.10" font-size="8.3" text-anchor="end" fill="#383838" transform="rotate(-45 375.20 182.10)" stroke="#2a2a2a" stroke-width="0.18">t-wAIHA</text>
<text x="275.80" y="99.25" font-size="7.9" text-anchor="middle" fill="#1a1a1a" transform="rotate(-90 275.80 99.25)" textLength="33.7" lengthAdjust="spacingAndGlyphs" stroke="#1a1a1a" stroke-width="0.25">pg/mL IL-8</text>
<line x1="319.30" y1="5.50" x2="371.50" y2="5.50" stroke="#222" stroke-width="1.1"/>
<circle cx="342.05" cy="2.50" r="1.25" fill="#262626"/>
<circle cx="345.40" cy="2.50" r="1.25" fill="#262626"/>
<circle cx="348.75" cy="2.50" r="1.25" fill="#262626"/>
<line x1="319.30" y1="16.50" x2="353.90" y2="16.50" stroke="#222" stroke-width="1.1"/>
<circle cx="336.60" cy="13.50" r="1.25" fill="#262626"/>
<line x1="319.30" y1="27.30" x2="336.60" y2="27.30" stroke="#222" stroke-width="1.1"/>
<circle cx="324.60" cy="24.30" r="1.25" fill="#262626"/>
<circle cx="327.95" cy="24.30" r="1.25" fill="#262626"/>
<circle cx="331.30" cy="24.30" r="1.25" fill="#262626"/>
<circle cx="319.30" cy="78.90" r="1.22" fill="#173a63"/>
<circle cx="319.30" cy="83.10" r="1.22" fill="#173a63"/>
<circle cx="322.30" cy="84.00" r="1.22" fill="#173a63"/>
<circle cx="316.30" cy="84.70" r="1.22" fill="#173a63"/>
<circle cx="319.30" cy="85.20" r="1.22" fill="#173a63"/>
<circle cx="323.80" cy="85.90" r="1.22" fill="#173a63"/>
<circle cx="314.80" cy="86.60" r="1.22" fill="#173a63"/>
<circle cx="317.80" cy="87.00" r="1.22" fill="#173a63"/>
<circle cx="319.30" cy="89.40" r="1.22" fill="#173a63"/>
<circle cx="316.30" cy="89.40" r="1.22" fill="#173a63"/>
<circle cx="319.30" cy="93.30" r="1.22" fill="#173a63"/>
<circle cx="316.30" cy="94.00" r="1.22" fill="#173a63"/>
<circle cx="319.30" cy="105.40" r="1.22" fill="#173a63"/>
<circle cx="316.30" cy="105.40" r="1.22" fill="#173a63"/>
<circle cx="319.30" cy="112.00" r="1.22" fill="#173a63"/>
<circle cx="316.30" cy="113.90" r="1.22" fill="#173a63"/>
<circle cx="319.30" cy="116.50" r="1.22" fill="#173a63"/>
<circle cx="322.30" cy="116.50" r="1.22" fill="#173a63"/>
<circle cx="314.80" cy="116.50" r="1.22" fill="#173a63"/>
<circle cx="317.80" cy="119.00" r="1.22" fill="#173a63"/>
<circle cx="320.80" cy="119.00" r="1.22" fill="#173a63"/>
<circle cx="319.30" cy="122.20" r="1.22" fill="#173a63"/>
<circle cx="319.30" cy="127.30" r="1.22" fill="#173a63"/>
<circle cx="319.30" cy="134.90" r="1.22" fill="#173a63"/>
<circle cx="322.30" cy="136.20" r="1.22" fill="#173a63"/>
<circle cx="316.30" cy="136.80" r="1.22" fill="#173a63"/>
<circle cx="319.30" cy="138.70" r="1.22" fill="#173a63"/>
<circle cx="319.30" cy="150.80" r="1.22" fill="#173a63"/>
<circle cx="313.90" cy="153.30" r="1.22" fill="#173a63"/>
<circle cx="317.43" cy="153.30" r="1.22" fill="#173a63"/>
<circle cx="320.97" cy="153.30" r="1.22" fill="#173a63"/>
<circle cx="324.50" cy="153.30" r="1.22" fill="#173a63"/>
<circle cx="336.60" cy="45.10" r="1.22" fill="#b8173f"/>
<circle cx="336.60" cy="59.40" r="1.22" fill="#b8173f"/>
<circle cx="336.60" cy="71.10" r="1.22" fill="#b8173f"/>
<circle cx="336.60" cy="75.00" r="1.22" fill="#b8173f"/>
<circle cx="339.60" cy="75.40" r="1.22" fill="#b8173f"/>
<circle cx="336.60" cy="81.70" r="1.22" fill="#b8173f"/>
<circle cx="339.60" cy="83.50" r="1.22" fill="#b8173f"/>
<circle cx="336.60" cy="85.50" r="1.22" fill="#b8173f"/>
<circle cx="333.60" cy="85.50" r="1.22" fill="#b8173f"/>
<circle cx="339.60" cy="87.00" r="1.22" fill="#b8173f"/>
<circle cx="335.10" cy="87.00" r="1.22" fill="#b8173f"/>
<circle cx="336.60" cy="87.00" r="1.22" fill="#b8173f"/>
<circle cx="336.60" cy="90.00" r="1.22" fill="#b8173f"/>
<circle cx="333.60" cy="90.00" r="1.22" fill="#b8173f"/>
<circle cx="336.60" cy="93.01" r="1.22" fill="#b8173f"/>
<circle cx="333.60" cy="93.78" r="1.22" fill="#b8173f"/>
<circle cx="339.60" cy="94.67" r="1.22" fill="#b8173f"/>
<circle cx="336.60" cy="95.58" r="1.22" fill="#b8173f"/>
<circle cx="333.60" cy="95.90" r="1.22" fill="#b8173f"/>
<circle cx="335.10" cy="96.58" r="1.22" fill="#b8173f"/>
<circle cx="339.60" cy="97.36" r="1.22" fill="#b8173f"/>
<circle cx="336.60" cy="98.43" r="1.22" fill="#b8173f"/>
<circle cx="333.60" cy="98.70" r="1.22" fill="#b8173f"/>
<circle cx="339.60" cy="99.82" r="1.22" fill="#b8173f"/>
<circle cx="336.60" cy="100.46" r="1.22" fill="#b8173f"/>
<circle cx="333.60" cy="100.80" r="1.22" fill="#b8173f"/>
<circle cx="338.10" cy="101.77" r="1.22" fill="#b8173f"/>
<circle cx="335.10" cy="102.41" r="1.22" fill="#b8173f"/>
<circle cx="339.60" cy="103.09" r="1.22" fill="#b8173f"/>
<circle cx="336.60" cy="104.20" r="1.22" fill="#b8173f"/>
<circle cx="333.60" cy="104.27" r="1.22" fill="#b8173f"/>
<circle cx="335.10" cy="104.91" r="1.22" fill="#b8173f"/>
<circle cx="339.60" cy="106.26" r="1.22" fill="#b8173f"/>
<circle cx="336.60" cy="106.58" r="1.22" fill="#b8173f"/>
<circle cx="333.60" cy="107.14" r="1.22" fill="#b8173f"/>
<circle cx="338.10" cy="107.93" r="1.22" fill="#b8173f"/>
<circle cx="335.10" cy="108.66" r="1.22" fill="#b8173f"/>
<circle cx="339.60" cy="109.77" r="1.22" fill="#b8173f"/>
<circle cx="336.60" cy="109.95" r="1.22" fill="#b8173f"/>
<circle cx="333.60" cy="110.65" r="1.22" fill="#b8173f"/>
<circle cx="338.10" cy="111.61" r="1.22" fill="#b8173f"/>
<circle cx="335.10" cy="112.28" r="1.22" fill="#b8173f"/>
<circle cx="339.60" cy="113.27" r="1.22" fill="#b8173f"/>
<circle cx="336.60" cy="113.89" r="1.22" fill="#b8173f"/>
<circle cx="336.60" cy="118.40" r="1.22" fill="#b8173f"/>
<circle cx="333.60" cy="120.00" r="1.22" fill="#b8173f"/>
<circle cx="336.60" cy="128.10" r="1.22" fill="#b8173f"/>
<circle cx="336.60" cy="138.60" r="1.22" fill="#b8173f"/>
<circle cx="353.90" cy="45.10" r="1.22" fill="#b8173f"/>
<circle cx="353.90" cy="71.10" r="1.22" fill="#b8173f"/>
<circle cx="353.90" cy="74.90" r="1.22" fill="#b8173f"/>
<circle cx="353.90" cy="81.60" r="1.22" fill="#b8173f"/>
<circle cx="357.40" cy="82.10" r="1.22" fill="#b8173f"/>
<circle cx="353.90" cy="84.70" r="1.22" fill="#b8173f"/>
<circle cx="355.65" cy="87.30" r="1.22" fill="#b8173f"/>
<circle cx="352.15" cy="87.80" r="1.22" fill="#b8173f"/>
<circle cx="353.90" cy="100.20" r="1.22" fill="#b8173f"/>
<circle cx="350.40" cy="100.20" r="1.22" fill="#b8173f"/>
<circle cx="353.90" cy="104.90" r="1.22" fill="#b8173f"/>
<circle cx="350.40" cy="104.90" r="1.22" fill="#b8173f"/>
<circle cx="353.90" cy="108.00" r="1.22" fill="#b8173f"/>
<circle cx="350.40" cy="108.00" r="1.22" fill="#b8173f"/>
<circle cx="353.90" cy="113.40" r="1.22" fill="#b8173f"/>
<circle cx="350.40" cy="113.70" r="1.22" fill="#b8173f"/>
<circle cx="357.40" cy="114.30" r="1.22" fill="#b8173f"/>
<circle cx="353.90" cy="116.90" r="1.22" fill="#b8173f"/>
<circle cx="353.90" cy="128.10" r="1.22" fill="#b8173f"/>
<circle cx="353.90" cy="138.60" r="1.22" fill="#b8173f"/>
<circle cx="371.50" cy="59.40" r="1.22" fill="#b8173f"/>
<circle cx="371.50" cy="75.70" r="1.22" fill="#b8173f"/>
<circle cx="371.50" cy="84.40" r="1.22" fill="#b8173f"/>
<circle cx="368.00" cy="84.70" r="1.22" fill="#b8173f"/>
<circle cx="375.00" cy="85.50" r="1.22" fill="#b8173f"/>
<circle cx="369.75" cy="85.70" r="1.22" fill="#b8173f"/>
<circle cx="371.50" cy="87.00" r="1.22" fill="#b8173f"/>
<circle cx="368.00" cy="87.80" r="1.22" fill="#b8173f"/>
<circle cx="375.00" cy="87.80" r="1.22" fill="#b8173f"/>
<circle cx="371.50" cy="89.20" r="1.22" fill="#b8173f"/>
<circle cx="375.00" cy="90.40" r="1.22" fill="#b8173f"/>
<circle cx="368.00" cy="90.40" r="1.22" fill="#b8173f"/>
<circle cx="371.50" cy="98.20" r="1.22" fill="#b8173f"/>
<circle cx="368.00" cy="98.20" r="1.22" fill="#b8173f"/>
<circle cx="375.00" cy="99.20" r="1.22" fill="#b8173f"/>
<circle cx="371.50" cy="103.90" r="1.22" fill="#b8173f"/>
<circle cx="375.00" cy="104.40" r="1.22" fill="#b8173f"/>
<circle cx="371.50" cy="107.00" r="1.22" fill="#b8173f"/>
<circle cx="368.00" cy="107.00" r="1.22" fill="#b8173f"/>
<circle cx="375.00" cy="107.00" r="1.22" fill="#b8173f"/>
<circle cx="373.25" cy="109.60" r="1.22" fill="#b8173f"/>
<circle cx="369.75" cy="109.60" r="1.22" fill="#b8173f"/>
<circle cx="371.50" cy="126.50" r="1.22" fill="#b8173f"/>
<line x1="319.30" y1="108.20" x2="319.30" y2="125.40" stroke="#1c1c1c" stroke-width="0.9"/>
<line x1="316.60" y1="108.20" x2="322.00" y2="108.20" stroke="#1c1c1c" stroke-width="0.9"/>
<line x1="316.60" y1="125.40" x2="322.00" y2="125.40" stroke="#1c1c1c" stroke-width="0.9"/>
<line x1="314.10" y1="117.10" x2="324.50" y2="117.10" stroke="#1c1c1c" stroke-width="1.0"/>
<line x1="336.60" y1="94.50" x2="336.60" y2="106.00" stroke="#1c1c1c" stroke-width="0.9"/>
<line x1="333.90" y1="94.50" x2="339.30" y2="94.50" stroke="#1c1c1c" stroke-width="0.9"/>
<line x1="333.90" y1="106.00" x2="339.30" y2="106.00" stroke="#1c1c1c" stroke-width="0.9"/>
<line x1="331.40" y1="101.00" x2="341.80" y2="101.00" stroke="#1c1c1c" stroke-width="1.0"/>
<line x1="353.90" y1="93.00" x2="353.90" y2="109.60" stroke="#1c1c1c" stroke-width="0.9"/>
<line x1="351.20" y1="93.00" x2="356.60" y2="93.00" stroke="#1c1c1c" stroke-width="0.9"/>
<line x1="351.20" y1="109.60" x2="356.60" y2="109.60" stroke="#1c1c1c" stroke-width="0.9"/>
<line x1="348.70" y1="101.50" x2="359.10" y2="101.50" stroke="#1c1c1c" stroke-width="1.0"/>
<line x1="371.50" y1="94.50" x2="371.50" y2="101.80" stroke="#1c1c1c" stroke-width="0.9"/>
<line x1="368.80" y1="94.50" x2="374.20" y2="94.50" stroke="#1c1c1c" stroke-width="0.9"/>
<line x1="368.80" y1="101.80" x2="374.20" y2="101.80" stroke="#1c1c1c" stroke-width="0.9"/>
<line x1="366.30" y1="97.10" x2="376.70" y2="97.10" stroke="#1c1c1c" stroke-width="1.0"/>
<line x1="443.50" y1="25.00" x2="443.50" y2="172.90" stroke="#1a1a1a" stroke-width="1.3"/>
<line x1="442.90" y1="172.30" x2="520.00" y2="172.30" stroke="#1a1a1a" stroke-width="1.3"/>
<line x1="440.30" y1="172.30" x2="443.50" y2="172.30" stroke="#1a1a1a" stroke-width="1.0"/>
<text x="437.40" y="175.70" font-size="8.4" text-anchor="end" fill="#383838">1</text>
<line x1="441.80" y1="163.64" x2="443.50" y2="163.64" stroke="#1a1a1a" stroke-width="0.7"/>
<line x1="441.80" y1="158.57" x2="443.50" y2="158.57" stroke="#1a1a1a" stroke-width="0.7"/>
<line x1="441.80" y1="154.97" x2="443.50" y2="154.97" stroke="#1a1a1a" stroke-width="0.7"/>
<line x1="441.80" y1="152.18" x2="443.50" y2="152.18" stroke="#1a1a1a" stroke-width="0.7"/>
<line x1="441.80" y1="149.90" x2="443.50" y2="149.90" stroke="#1a1a1a" stroke-width="0.7"/>
<line x1="441.80" y1="147.98" x2="443.50" y2="147.98" stroke="#1a1a1a" stroke-width="0.7"/>
<line x1="441.80" y1="146.31" x2="443.50" y2="146.31" stroke="#1a1a1a" stroke-width="0.7"/>
<line x1="441.80" y1="144.84" x2="443.50" y2="144.84" stroke="#1a1a1a" stroke-width="0.7"/>
<line x1="440.30" y1="143.52" x2="443.50" y2="143.52" stroke="#1a1a1a" stroke-width="1.0"/>
<text x="437.40" y="146.92" font-size="8.4" text-anchor="end" fill="#383838">10</text>
<line x1="441.80" y1="134.86" x2="443.50" y2="134.86" stroke="#1a1a1a" stroke-width="0.7"/>
<line x1="441.80" y1="129.79" x2="443.50" y2="129.79" stroke="#1a1a1a" stroke-width="0.7"/>
<line x1="441.80" y1="126.19" x2="443.50" y2="126.19" stroke="#1a1a1a" stroke-width="0.7"/>
<line x1="441.80" y1="123.40" x2="443.50" y2="123.40" stroke="#1a1a1a" stroke-width="0.7"/>
<line x1="441.80" y1="121.12" x2="443.50" y2="121.12" stroke="#1a1a1a" stroke-width="0.7"/>
<line x1="441.80" y1="119.20" x2="443.50" y2="119.20" stroke="#1a1a1a" stroke-width="0.7"/>
<line x1="441.80" y1="117.53" x2="443.50" y2="117.53" stroke="#1a1a1a" stroke-width="0.7"/>
<line x1="441.80" y1="116.06" x2="443.50" y2="116.06" stroke="#1a1a1a" stroke-width="0.7"/>
<line x1="440.30" y1="114.74" x2="443.50" y2="114.74" stroke="#1a1a1a" stroke-width="1.0"/>
<text x="437.40" y="118.14" font-size="8.4" text-anchor="end" fill="#383838">100</text>
<line x1="441.80" y1="106.08" x2="443.50" y2="106.08" stroke="#1a1a1a" stroke-width="0.7"/>
<line x1="441.80" y1="101.01" x2="443.50" y2="101.01" stroke="#1a1a1a" stroke-width="0.7"/>
<line x1="441.80" y1="97.41" x2="443.50" y2="97.41" stroke="#1a1a1a" stroke-width="0.7"/>
<line x1="441.80" y1="94.62" x2="443.50" y2="94.62" stroke="#1a1a1a" stroke-width="0.7"/>
<line x1="441.80" y1="92.34" x2="443.50" y2="92.34" stroke="#1a1a1a" stroke-width="0.7"/>
<line x1="441.80" y1="90.42" x2="443.50" y2="90.42" stroke="#1a1a1a" stroke-width="0.7"/>
<line x1="441.80" y1="88.75" x2="443.50" y2="88.75" stroke="#1a1a1a" stroke-width="0.7"/>
<line x1="441.80" y1="87.28" x2="443.50" y2="87.28" stroke="#1a1a1a" stroke-width="0.7"/>
<line x1="440.30" y1="85.96" x2="443.50" y2="85.96" stroke="#1a1a1a" stroke-width="1.0"/>
<text x="437.40" y="89.36" font-size="8.4" text-anchor="end" fill="#383838">1000</text>
<line x1="441.80" y1="77.30" x2="443.50" y2="77.30" stroke="#1a1a1a" stroke-width="0.7"/>
<line x1="441.80" y1="72.23" x2="443.50" y2="72.23" stroke="#1a1a1a" stroke-width="0.7"/>
<line x1="441.80" y1="68.63" x2="443.50" y2="68.63" stroke="#1a1a1a" stroke-width="0.7"/>
<line x1="441.80" y1="65.84" x2="443.50" y2="65.84" stroke="#1a1a1a" stroke-width="0.7"/>
<line x1="441.80" y1="63.56" x2="443.50" y2="63.56" stroke="#1a1a1a" stroke-width="0.7"/>
<line x1="441.80" y1="61.64" x2="443.50" y2="61.64" stroke="#1a1a1a" stroke-width="0.7"/>
<line x1="441.80" y1="59.97" x2="443.50" y2="59.97" stroke="#1a1a1a" stroke-width="0.7"/>
<line x1="441.80" y1="58.50" x2="443.50" y2="58.50" stroke="#1a1a1a" stroke-width="0.7"/>
<line x1="440.30" y1="57.18" x2="443.50" y2="57.18" stroke="#1a1a1a" stroke-width="1.0"/>
<text x="437.40" y="60.58" font-size="8.4" text-anchor="end" fill="#383838">10000</text>
<line x1="441.80" y1="48.52" x2="443.50" y2="48.52" stroke="#1a1a1a" stroke-width="0.7"/>
<line x1="441.80" y1="43.45" x2="443.50" y2="43.45" stroke="#1a1a1a" stroke-width="0.7"/>
<line x1="441.80" y1="39.85" x2="443.50" y2="39.85" stroke="#1a1a1a" stroke-width="0.7"/>
<line x1="441.80" y1="37.06" x2="443.50" y2="37.06" stroke="#1a1a1a" stroke-width="0.7"/>
<line x1="441.80" y1="34.78" x2="443.50" y2="34.78" stroke="#1a1a1a" stroke-width="0.7"/>
<line x1="441.80" y1="32.86" x2="443.50" y2="32.86" stroke="#1a1a1a" stroke-width="0.7"/>
<line x1="441.80" y1="31.19" x2="443.50" y2="31.19" stroke="#1a1a1a" stroke-width="0.7"/>
<line x1="441.80" y1="29.72" x2="443.50" y2="29.72" stroke="#1a1a1a" stroke-width="0.7"/>
<line x1="440.30" y1="28.40" x2="443.50" y2="28.40" stroke="#1a1a1a" stroke-width="1.0"/>
<text x="437.40" y="31.80" font-size="8.4" text-anchor="end" fill="#383838">100000</text>
<line x1="455.40" y1="172.30" x2="455.40" y2="175.30" stroke="#1a1a1a" stroke-width="1.0"/>
<text x="459.10" y="182.10" font-size="8.3" text-anchor="end" fill="#383838" transform="rotate(-45 459.10 182.10)" stroke="#2a2a2a" stroke-width="0.18">HC</text>
<line x1="472.60" y1="172.30" x2="472.60" y2="175.30" stroke="#1a1a1a" stroke-width="1.0"/>
<text x="476.30" y="182.10" font-size="8.3" text-anchor="end" fill="#383838" transform="rotate(-45 476.30 182.10)" stroke="#2a2a2a" stroke-width="0.18">wAIHA</text>
<line x1="490.30" y1="172.30" x2="490.30" y2="175.30" stroke="#1a1a1a" stroke-width="1.0"/>
<text x="494.00" y="182.10" font-size="8.3" text-anchor="end" fill="#383838" transform="rotate(-45 494.00 182.10)" stroke="#2a2a2a" stroke-width="0.18">nt-wAIHA</text>
<line x1="507.70" y1="172.30" x2="507.70" y2="175.30" stroke="#1a1a1a" stroke-width="1.0"/>
<text x="511.40" y="182.10" font-size="8.3" text-anchor="end" fill="#383838" transform="rotate(-45 511.40 182.10)" stroke="#2a2a2a" stroke-width="0.18">t-wAIHA</text>
<text x="401.10" y="98.80" font-size="7.9" text-anchor="middle" fill="#1a1a1a" transform="rotate(-90 401.10 98.80)" textLength="42.7" lengthAdjust="spacingAndGlyphs" stroke="#1a1a1a" stroke-width="0.25">pg/mL MCP-1</text>
<line x1="455.40" y1="5.50" x2="507.70" y2="5.50" stroke="#222" stroke-width="1.1"/>
<circle cx="479.87" cy="2.50" r="1.25" fill="#262626"/>
<circle cx="483.22" cy="2.50" r="1.25" fill="#262626"/>
<line x1="455.40" y1="16.50" x2="490.30" y2="16.50" stroke="#222" stroke-width="1.1"/>
<circle cx="469.50" cy="13.50" r="1.25" fill="#262626"/>
<circle cx="472.85" cy="13.50" r="1.25" fill="#262626"/>
<circle cx="476.20" cy="13.50" r="1.25" fill="#262626"/>
<line x1="455.40" y1="27.30" x2="472.60" y2="27.30" stroke="#222" stroke-width="1.1"/>
<circle cx="458.98" cy="24.30" r="1.25" fill="#262626"/>
<circle cx="462.32" cy="24.30" r="1.25" fill="#262626"/>
<circle cx="465.68" cy="24.30" r="1.25" fill="#262626"/>
<circle cx="469.02" cy="24.30" r="1.25" fill="#262626"/>
<circle cx="455.40" cy="95.30" r="1.22" fill="#173a63"/>
<circle cx="452.40" cy="97.60" r="1.22" fill="#173a63"/>
<circle cx="455.40" cy="99.40" r="1.22" fill="#173a63"/>
<circle cx="452.40" cy="101.60" r="1.22" fill="#173a63"/>
<circle cx="455.40" cy="102.48" r="1.22" fill="#173a63"/>
<circle cx="458.40" cy="103.13" r="1.22" fill="#173a63"/>
<circle cx="450.90" cy="104.04" r="1.22" fill="#173a63"/>
<circle cx="453.90" cy="104.33" r="1.22" fill="#173a63"/>
<circle cx="456.90" cy="104.77" r="1.22" fill="#173a63"/>
<circle cx="459.90" cy="105.08" r="1.22" fill="#173a63"/>
<circle cx="455.40" cy="105.36" r="1.22" fill="#173a63"/>
<circle cx="452.40" cy="105.79" r="1.22" fill="#173a63"/>
<circle cx="458.40" cy="106.04" r="1.22" fill="#173a63"/>
<circle cx="453.90" cy="106.37" r="1.22" fill="#173a63"/>
<circle cx="456.90" cy="106.61" r="1.22" fill="#173a63"/>
<circle cx="450.90" cy="106.91" r="1.22" fill="#173a63"/>
<circle cx="455.40" cy="107.06" r="1.22" fill="#173a63"/>
<circle cx="459.90" cy="107.23" r="1.22" fill="#173a63"/>
<circle cx="458.40" cy="107.46" r="1.22" fill="#173a63"/>
<circle cx="452.40" cy="107.82" r="1.22" fill="#173a63"/>
<circle cx="456.90" cy="107.91" r="1.22" fill="#173a63"/>
<circle cx="453.90" cy="108.23" r="1.22" fill="#173a63"/>
<circle cx="455.40" cy="108.42" r="1.22" fill="#173a63"/>
<circle cx="458.40" cy="109.80" r="1.22" fill="#173a63"/>
<circle cx="450.90" cy="109.80" r="1.22" fill="#173a63"/>
<circle cx="455.40" cy="114.20" r="1.22" fill="#173a63"/>
<circle cx="455.40" cy="120.10" r="1.22" fill="#173a63"/>
<circle cx="452.40" cy="121.30" r="1.22" fill="#173a63"/>
<circle cx="455.40" cy="153.75" r="1.22" fill="#173a63"/>
<circle cx="472.60" cy="54.80" r="1.22" fill="#b8173f"/>
<circle cx="472.60" cy="64.50" r="1.22" fill="#b8173f"/>
<circle cx="472.60" cy="68.30" r="1.22" fill="#b8173f"/>
<circle cx="472.60" cy="86.86" r="1.22" fill="#b8173f"/>
<circle cx="475.60" cy="87.41" r="1.22" fill="#b8173f"/>
<circle cx="469.60" cy="88.71" r="1.22" fill="#b8173f"/>
<circle cx="472.60" cy="89.48" r="1.22" fill="#b8173f"/>
<circle cx="475.60" cy="90.52" r="1.22" fill="#b8173f"/>
<circle cx="468.10" cy="91.09" r="1.22" fill="#b8173f"/>
<circle cx="471.10" cy="91.78" r="1.22" fill="#b8173f"/>
<circle cx="474.10" cy="91.88" r="1.22" fill="#b8173f"/>
<circle cx="477.10" cy="92.58" r="1.22" fill="#b8173f"/>
<circle cx="472.60" cy="92.88" r="1.22" fill="#b8173f"/>
<circle cx="469.60" cy="93.46" r="1.22" fill="#b8173f"/>
<circle cx="474.10" cy="94.06" r="1.22" fill="#b8173f"/>
<circle cx="471.10" cy="94.29" r="1.22" fill="#b8173f"/>
<circle cx="477.10" cy="94.82" r="1.22" fill="#b8173f"/>
<circle cx="468.10" cy="95.46" r="1.22" fill="#b8173f"/>
<circle cx="472.60" cy="95.85" r="1.22" fill="#b8173f"/>
<circle cx="475.60" cy="96.14" r="1.22" fill="#b8173f"/>
<circle cx="469.60" cy="96.72" r="1.22" fill="#b8173f"/>
<circle cx="474.10" cy="97.25" r="1.22" fill="#b8173f"/>
<circle cx="477.10" cy="97.33" r="1.22" fill="#b8173f"/>
<circle cx="471.10" cy="98.11" r="1.22" fill="#b8173f"/>
<circle cx="468.10" cy="98.49" r="1.22" fill="#b8173f"/>
<circle cx="475.60" cy="98.78" r="1.22" fill="#b8173f"/>
<circle cx="472.60" cy="99.14" r="1.22" fill="#b8173f"/>
<circle cx="469.60" cy="99.96" r="1.22" fill="#b8173f"/>
<circle cx="474.10" cy="100.13" r="1.22" fill="#b8173f"/>
<circle cx="477.10" cy="100.49" r="1.22" fill="#b8173f"/>
<circle cx="472.60" cy="100.98" r="1.22" fill="#b8173f"/>
<circle cx="468.10" cy="101.88" r="1.22" fill="#b8173f"/>
<circle cx="475.60" cy="102.30" r="1.22" fill="#b8173f"/>
<circle cx="471.10" cy="103.00" r="1.22" fill="#b8173f"/>
<circle cx="474.10" cy="103.58" r="1.22" fill="#b8173f"/>
<circle cx="468.10" cy="104.14" r="1.22" fill="#b8173f"/>
<circle cx="477.10" cy="105.31" r="1.22" fill="#b8173f"/>
<circle cx="472.60" cy="105.71" r="1.22" fill="#b8173f"/>
<circle cx="469.60" cy="107.28" r="1.22" fill="#b8173f"/>
<circle cx="472.60" cy="112.80" r="1.22" fill="#b8173f"/>
<circle cx="472.60" cy="117.30" r="1.22" fill="#b8173f"/>
<circle cx="472.60" cy="124.10" r="1.22" fill="#b8173f"/>
<circle cx="472.60" cy="130.90" r="1.22" fill="#b8173f"/>
<circle cx="490.30" cy="54.80" r="1.22" fill="#b8173f"/>
<circle cx="490.30" cy="67.90" r="1.22" fill="#b8173f"/>
<circle cx="490.30" cy="85.60" r="1.22" fill="#b8173f"/>
<circle cx="485.60" cy="86.50" r="1.22" fill="#b8173f"/>
<circle cx="492.65" cy="88.00" r="1.22" fill="#b8173f"/>
<circle cx="487.95" cy="88.00" r="1.22" fill="#b8173f"/>
<circle cx="490.30" cy="90.30" r="1.22" fill="#b8173f"/>
<circle cx="487.95" cy="92.80" r="1.22" fill="#b8173f"/>
<circle cx="492.65" cy="92.80" r="1.22" fill="#b8173f"/>
<circle cx="490.30" cy="94.00" r="1.22" fill="#b8173f"/>
<circle cx="495.00" cy="96.00" r="1.22" fill="#b8173f"/>
<circle cx="490.30" cy="98.80" r="1.22" fill="#b8173f"/>
<circle cx="485.60" cy="98.80" r="1.22" fill="#b8173f"/>
<circle cx="495.00" cy="100.00" r="1.22" fill="#b8173f"/>
<circle cx="492.65" cy="100.00" r="1.22" fill="#b8173f"/>
<circle cx="490.30" cy="102.90" r="1.22" fill="#b8173f"/>
<circle cx="485.60" cy="102.90" r="1.22" fill="#b8173f"/>
<circle cx="495.00" cy="102.90" r="1.22" fill="#b8173f"/>
<circle cx="490.30" cy="106.20" r="1.22" fill="#b8173f"/>
<circle cx="485.60" cy="106.20" r="1.22" fill="#b8173f"/>
<circle cx="495.00" cy="107.60" r="1.22" fill="#b8173f"/>
<circle cx="490.30" cy="117.30" r="1.22" fill="#b8173f"/>
<circle cx="507.70" cy="64.50" r="1.22" fill="#b8173f"/>
<circle cx="507.70" cy="69.00" r="1.22" fill="#b8173f"/>
<circle cx="507.70" cy="84.70" r="1.22" fill="#b8173f"/>
<circle cx="503.00" cy="86.70" r="1.22" fill="#b8173f"/>
<circle cx="507.70" cy="89.40" r="1.22" fill="#b8173f"/>
<circle cx="512.40" cy="89.40" r="1.22" fill="#b8173f"/>
<circle cx="510.05" cy="92.10" r="1.22" fill="#b8173f"/>
<circle cx="505.35" cy="92.10" r="1.22" fill="#b8173f"/>
<circle cx="507.70" cy="94.80" r="1.22" fill="#b8173f"/>
<circle cx="503.00" cy="94.80" r="1.22" fill="#b8173f"/>
<circle cx="510.05" cy="97.00" r="1.22" fill="#b8173f"/>
<circle cx="507.70" cy="99.50" r="1.22" fill="#b8173f"/>
<circle cx="512.40" cy="99.50" r="1.22" fill="#b8173f"/>
<circle cx="503.00" cy="99.50" r="1.22" fill="#b8173f"/>
<circle cx="510.05" cy="102.20" r="1.22" fill="#b8173f"/>
<circle cx="505.35" cy="102.20" r="1.22" fill="#b8173f"/>
<circle cx="507.70" cy="102.20" r="1.22" fill="#b8173f"/>
<circle cx="503.00" cy="104.90" r="1.22" fill="#b8173f"/>
<circle cx="512.40" cy="104.90" r="1.22" fill="#b8173f"/>
<circle cx="507.70" cy="106.90" r="1.22" fill="#b8173f"/>
<circle cx="510.05" cy="106.90" r="1.22" fill="#b8173f"/>
<circle cx="505.35" cy="106.90" r="1.22" fill="#b8173f"/>
<circle cx="507.70" cy="110.30" r="1.22" fill="#b8173f"/>
<circle cx="505.35" cy="113.00" r="1.22" fill="#b8173f"/>
<circle cx="507.70" cy="130.90" r="1.22" fill="#b8173f"/>
<line x1="455.40" y1="100.50" x2="455.40" y2="109.80" stroke="#1c1c1c" stroke-width="0.9"/>
<line x1="452.70" y1="100.50" x2="458.10" y2="100.50" stroke="#1c1c1c" stroke-width="0.9"/>
<line x1="452.70" y1="109.80" x2="458.10" y2="109.80" stroke="#1c1c1c" stroke-width="0.9"/>
<line x1="450.20" y1="104.50" x2="460.60" y2="104.50" stroke="#1c1c1c" stroke-width="1.0"/>
<line x1="472.60" y1="93.50" x2="472.60" y2="102.50" stroke="#1c1c1c" stroke-width="0.9"/>
<line x1="469.90" y1="93.50" x2="475.30" y2="93.50" stroke="#1c1c1c" stroke-width="0.9"/>
<line x1="469.90" y1="102.50" x2="475.30" y2="102.50" stroke="#1c1c1c" stroke-width="0.9"/>
<line x1="467.40" y1="100.00" x2="477.80" y2="100.00" stroke="#1c1c1c" stroke-width="1.0"/>
<line x1="490.30" y1="91.40" x2="490.30" y2="102.20" stroke="#1c1c1c" stroke-width="0.9"/>
<line x1="487.60" y1="91.40" x2="493.00" y2="91.40" stroke="#1c1c1c" stroke-width="0.9"/>
<line x1="487.60" y1="102.20" x2="493.00" y2="102.20" stroke="#1c1c1c" stroke-width="0.9"/>
<line x1="485.10" y1="96.80" x2="495.50" y2="96.80" stroke="#1c1c1c" stroke-width="1.0"/>
<line x1="507.70" y1="92.00" x2="507.70" y2="103.00" stroke="#1c1c1c" stroke-width="0.9"/>
<line x1="505.00" y1="92.00" x2="510.40" y2="92.00" stroke="#1c1c1c" stroke-width="0.9"/>
<line x1="505.00" y1="103.00" x2="510.40" y2="103.00" stroke="#1c1c1c" stroke-width="0.9"/>
<line x1="502.50" y1="97.50" x2="512.90" y2="97.50" stroke="#1c1c1c" stroke-width="1.0"/>
<line x1="113.20" y1="249.70" x2="113.20" y2="396.80" stroke="#1a1a1a" stroke-width="1.3"/>
<line x1="112.60" y1="396.20" x2="189.90" y2="396.20" stroke="#1a1a1a" stroke-width="1.3"/>
<line x1="110.00" y1="396.00" x2="113.20" y2="396.00" stroke="#1a1a1a" stroke-width="1.0"/>
<text x="107.10" y="399.40" font-size="8.4" text-anchor="end" fill="#383838">1</text>
<line x1="111.50" y1="381.49" x2="113.20" y2="381.49" stroke="#1a1a1a" stroke-width="0.7"/>
<line x1="111.50" y1="373.00" x2="113.20" y2="373.00" stroke="#1a1a1a" stroke-width="0.7"/>
<line x1="111.50" y1="366.98" x2="113.20" y2="366.98" stroke="#1a1a1a" stroke-width="0.7"/>
<line x1="111.50" y1="362.31" x2="113.20" y2="362.31" stroke="#1a1a1a" stroke-width="0.7"/>
<line x1="111.50" y1="358.49" x2="113.20" y2="358.49" stroke="#1a1a1a" stroke-width="0.7"/>
<line x1="111.50" y1="355.27" x2="113.20" y2="355.27" stroke="#1a1a1a" stroke-width="0.7"/>
<line x1="111.50" y1="352.47" x2="113.20" y2="352.47" stroke="#1a1a1a" stroke-width="0.7"/>
<line x1="111.50" y1="350.01" x2="113.20" y2="350.01" stroke="#1a1a1a" stroke-width="0.7"/>
<line x1="110.00" y1="347.80" x2="113.20" y2="347.80" stroke="#1a1a1a" stroke-width="1.0"/>
<text x="107.10" y="351.20" font-size="8.4" text-anchor="end" fill="#383838">10</text>
<line x1="111.50" y1="333.29" x2="113.20" y2="333.29" stroke="#1a1a1a" stroke-width="0.7"/>
<line x1="111.50" y1="324.80" x2="113.20" y2="324.80" stroke="#1a1a1a" stroke-width="0.7"/>
<line x1="111.50" y1="318.78" x2="113.20" y2="318.78" stroke="#1a1a1a" stroke-width="0.7"/>
<line x1="111.50" y1="314.11" x2="113.20" y2="314.11" stroke="#1a1a1a" stroke-width="0.7"/>
<line x1="111.50" y1="310.29" x2="113.20" y2="310.29" stroke="#1a1a1a" stroke-width="0.7"/>
<line x1="111.50" y1="307.07" x2="113.20" y2="307.07" stroke="#1a1a1a" stroke-width="0.7"/>
<line x1="111.50" y1="304.27" x2="113.20" y2="304.27" stroke="#1a1a1a" stroke-width="0.7"/>
<line x1="111.50" y1="301.81" x2="113.20" y2="301.81" stroke="#1a1a1a" stroke-width="0.7"/>
<line x1="110.00" y1="299.60" x2="113.20" y2="299.60" stroke="#1a1a1a" stroke-width="1.0"/>
<text x="107.10" y="303.00" font-size="8.4" text-anchor="end" fill="#383838">100</text>
<line x1="111.50" y1="285.09" x2="113.20" y2="285.09" stroke="#1a1a1a" stroke-width="0.7"/>
<line x1="111.50" y1="276.60" x2="113.20" y2="276.60" stroke="#1a1a1a" stroke-width="0.7"/>
<line x1="111.50" y1="270.58" x2="113.20" y2="270.58" stroke="#1a1a1a" stroke-width="0.7"/>
<line x1="111.50" y1="265.91" x2="113.20" y2="265.91" stroke="#1a1a1a" stroke-width="0.7"/>
<line x1="111.50" y1="262.09" x2="113.20" y2="262.09" stroke="#1a1a1a" stroke-width="0.7"/>
<line x1="111.50" y1="258.87" x2="113.20" y2="258.87" stroke="#1a1a1a" stroke-width="0.7"/>
<line x1="111.50" y1="256.07" x2="113.20" y2="256.07" stroke="#1a1a1a" stroke-width="0.7"/>
<line x1="111.50" y1="253.61" x2="113.20" y2="253.61" stroke="#1a1a1a" stroke-width="0.7"/>
<line x1="110.00" y1="251.40" x2="113.20" y2="251.40" stroke="#1a1a1a" stroke-width="1.0"/>
<text x="107.10" y="254.80" font-size="8.4" text-anchor="end" fill="#383838">1000</text>
<line x1="125.10" y1="396.20" x2="125.10" y2="399.20" stroke="#1a1a1a" stroke-width="1.0"/>
<text x="128.80" y="406.00" font-size="8.3" text-anchor="end" fill="#383838" transform="rotate(-45 128.80 406.00)" stroke="#2a2a2a" stroke-width="0.18">HC</text>
<line x1="142.40" y1="396.20" x2="142.40" y2="399.20" stroke="#1a1a1a" stroke-width="1.0"/>
<text x="146.10" y="406.00" font-size="8.3" text-anchor="end" fill="#383838" transform="rotate(-45 146.10 406.00)" stroke="#2a2a2a" stroke-width="0.18">wAIHA</text>
<line x1="160.00" y1="396.20" x2="160.00" y2="399.20" stroke="#1a1a1a" stroke-width="1.0"/>
<text x="163.70" y="406.00" font-size="8.3" text-anchor="end" fill="#383838" transform="rotate(-45 163.70 406.00)" stroke="#2a2a2a" stroke-width="0.18">nt-wAIHA</text>
<line x1="177.40" y1="396.20" x2="177.40" y2="399.20" stroke="#1a1a1a" stroke-width="1.0"/>
<text x="181.10" y="406.00" font-size="8.3" text-anchor="end" fill="#383838" transform="rotate(-45 181.10 406.00)" stroke="#2a2a2a" stroke-width="0.18">t-wAIHA</text>
<text x="81.50" y="322.00" font-size="7.9" text-anchor="middle" fill="#1a1a1a" transform="rotate(-90 81.50 322.00)" textLength="45.0" lengthAdjust="spacingAndGlyphs" stroke="#1a1a1a" stroke-width="0.25">pg/mL TNF-&#945;</text>
<line x1="125.10" y1="229.50" x2="177.40" y2="229.50" stroke="#222" stroke-width="1.1"/>
<circle cx="146.22" cy="226.50" r="1.25" fill="#262626"/>
<circle cx="149.57" cy="226.50" r="1.25" fill="#262626"/>
<circle cx="152.93" cy="226.50" r="1.25" fill="#262626"/>
<circle cx="156.28" cy="226.50" r="1.25" fill="#262626"/>
<line x1="125.10" y1="240.50" x2="160.00" y2="240.50" stroke="#222" stroke-width="1.1"/>
<circle cx="137.53" cy="237.50" r="1.25" fill="#262626"/>
<circle cx="140.88" cy="237.50" r="1.25" fill="#262626"/>
<circle cx="144.23" cy="237.50" r="1.25" fill="#262626"/>
<circle cx="147.58" cy="237.50" r="1.25" fill="#262626"/>
<line x1="125.10" y1="251.30" x2="142.40" y2="251.30" stroke="#222" stroke-width="1.1"/>
<circle cx="128.72" cy="248.30" r="1.25" fill="#262626"/>
<circle cx="132.07" cy="248.30" r="1.25" fill="#262626"/>
<circle cx="135.43" cy="248.30" r="1.25" fill="#262626"/>
<circle cx="138.78" cy="248.30" r="1.25" fill="#262626"/>
<circle cx="125.10" cy="331.20" r="1.22" fill="#173a63"/>
<circle cx="125.10" cy="336.20" r="1.22" fill="#173a63"/>
<circle cx="128.10" cy="336.20" r="1.22" fill="#173a63"/>
<circle cx="125.10" cy="340.60" r="1.22" fill="#173a63"/>
<circle cx="128.10" cy="340.60" r="1.22" fill="#173a63"/>
<circle cx="123.60" cy="343.10" r="1.22" fill="#173a63"/>
<circle cx="126.60" cy="343.10" r="1.22" fill="#173a63"/>
<circle cx="125.10" cy="346.40" r="1.22" fill="#173a63"/>
<circle cx="125.10" cy="349.70" r="1.22" fill="#173a63"/>
<circle cx="122.10" cy="349.70" r="1.22" fill="#173a63"/>
<circle cx="125.10" cy="353.00" r="1.22" fill="#173a63"/>
<circle cx="122.10" cy="353.00" r="1.22" fill="#173a63"/>
<circle cx="128.10" cy="353.00" r="1.22" fill="#173a63"/>
<circle cx="125.10" cy="356.50" r="1.22" fill="#173a63"/>
<circle cx="128.10" cy="357.50" r="1.22" fill="#173a63"/>
<circle cx="125.10" cy="360.40" r="1.22" fill="#173a63"/>
<circle cx="128.10" cy="360.40" r="1.22" fill="#173a63"/>
<circle cx="122.10" cy="360.40" r="1.22" fill="#173a63"/>
<circle cx="125.10" cy="363.70" r="1.22" fill="#173a63"/>
<circle cx="122.10" cy="363.70" r="1.22" fill="#173a63"/>
<circle cx="128.10" cy="363.70" r="1.22" fill="#173a63"/>
<circle cx="125.10" cy="367.80" r="1.22" fill="#173a63"/>
<circle cx="128.10" cy="367.80" r="1.22" fill="#173a63"/>
<circle cx="125.10" cy="371.90" r="1.22" fill="#173a63"/>
<circle cx="128.10" cy="371.90" r="1.22" fill="#173a63"/>
<circle cx="123.60" cy="374.30" r="1.22" fill="#173a63"/>
<circle cx="125.10" cy="378.50" r="1.22" fill="#173a63"/>
<circle cx="125.10" cy="382.60" r="1.22" fill="#173a63"/>
<circle cx="142.40" cy="284.80" r="1.22" fill="#b8173f"/>
<circle cx="142.40" cy="289.80" r="1.22" fill="#b8173f"/>
<circle cx="145.40" cy="289.80" r="1.22" fill="#b8173f"/>
<circle cx="142.40" cy="298.30" r="1.22" fill="#b8173f"/>
<circle cx="145.40" cy="299.80" r="1.22" fill="#b8173f"/>
<circle cx="142.40" cy="311.10" r="1.22" fill="#b8173f"/>
<circle cx="145.40" cy="311.10" r="1.22" fill="#b8173f"/>
<circle cx="139.40" cy="311.10" r="1.22" fill="#b8173f"/>
<circle cx="142.40" cy="314.90" r="1.22" fill="#b8173f"/>
<circle cx="139.40" cy="314.90" r="1.22" fill="#b8173f"/>
<circle cx="142.40" cy="317.90" r="1.22" fill="#b8173f"/>
<circle cx="142.40" cy="320.90" r="1.22" fill="#b8173f"/>
<circle cx="145.40" cy="320.90" r="1.22" fill="#b8173f"/>
<circle cx="139.40" cy="320.90" r="1.22" fill="#b8173f"/>
<circle cx="143.90" cy="323.20" r="1.22" fill="#b8173f"/>
<circle cx="140.90" cy="323.20" r="1.22" fill="#b8173f"/>
<circle cx="142.40" cy="326.20" r="1.22" fill="#b8173f"/>
<circle cx="139.40" cy="328.50" r="1.22" fill="#b8173f"/>
<circle cx="145.40" cy="328.50" r="1.22" fill="#b8173f"/>
<circle cx="142.40" cy="330.70" r="1.22" fill="#b8173f"/>
<circle cx="146.90" cy="331.22" r="1.22" fill="#b8173f"/>
<circle cx="139.40" cy="332.39" r="1.22" fill="#b8173f"/>
<circle cx="143.90" cy="333.00" r="1.22" fill="#b8173f"/>
<circle cx="146.90" cy="334.53" r="1.22" fill="#b8173f"/>
<circle cx="140.90" cy="334.91" r="1.22" fill="#b8173f"/>
<circle cx="143.90" cy="336.13" r="1.22" fill="#b8173f"/>
<circle cx="139.40" cy="337.39" r="1.22" fill="#b8173f"/>
<circle cx="146.90" cy="337.83" r="1.22" fill="#b8173f"/>
<circle cx="142.40" cy="339.28" r="1.22" fill="#b8173f"/>
<circle cx="137.90" cy="339.98" r="1.22" fill="#b8173f"/>
<circle cx="145.40" cy="340.74" r="1.22" fill="#b8173f"/>
<circle cx="140.90" cy="341.73" r="1.22" fill="#b8173f"/>
<circle cx="143.90" cy="342.62" r="1.22" fill="#b8173f"/>
<circle cx="137.90" cy="343.33" r="1.22" fill="#b8173f"/>
<circle cx="140.90" cy="344.84" r="1.22" fill="#b8173f"/>
<circle cx="145.40" cy="345.22" r="1.22" fill="#b8173f"/>
<circle cx="137.90" cy="346.68" r="1.22" fill="#b8173f"/>
<circle cx="142.40" cy="347.48" r="1.22" fill="#b8173f"/>
<circle cx="146.90" cy="347.64" r="1.22" fill="#b8173f"/>
<circle cx="139.40" cy="348.78" r="1.22" fill="#b8173f"/>
<circle cx="143.90" cy="349.90" r="1.22" fill="#b8173f"/>
<circle cx="140.90" cy="351.14" r="1.22" fill="#b8173f"/>
<circle cx="146.90" cy="351.47" r="1.22" fill="#b8173f"/>
<circle cx="143.90" cy="352.80" r="1.22" fill="#b8173f"/>
<circle cx="139.40" cy="353.49" r="1.22" fill="#b8173f"/>
<circle cx="146.90" cy="354.80" r="1.22" fill="#b8173f"/>
<circle cx="142.40" cy="357.90" r="1.22" fill="#b8173f"/>
<circle cx="142.40" cy="364.50" r="1.22" fill="#b8173f"/>
<circle cx="142.40" cy="377.30" r="1.22" fill="#b8173f"/>
<circle cx="160.00" cy="289.80" r="1.22" fill="#b8173f"/>
<circle cx="160.00" cy="311.10" r="1.22" fill="#b8173f"/>
<circle cx="164.70" cy="311.10" r="1.22" fill="#b8173f"/>
<circle cx="155.30" cy="311.10" r="1.22" fill="#b8173f"/>
<circle cx="160.00" cy="315.70" r="1.22" fill="#b8173f"/>
<circle cx="160.00" cy="321.70" r="1.22" fill="#b8173f"/>
<circle cx="164.70" cy="321.70" r="1.22" fill="#b8173f"/>
<circle cx="155.30" cy="321.70" r="1.22" fill="#b8173f"/>
<circle cx="160.00" cy="330.00" r="1.22" fill="#b8173f"/>
<circle cx="160.00" cy="334.00" r="1.22" fill="#b8173f"/>
<circle cx="164.70" cy="336.00" r="1.22" fill="#b8173f"/>
<circle cx="160.00" cy="339.00" r="1.22" fill="#b8173f"/>
<circle cx="155.30" cy="339.00" r="1.22" fill="#b8173f"/>
<circle cx="164.70" cy="339.00" r="1.22" fill="#b8173f"/>
<circle cx="160.00" cy="345.60" r="1.22" fill="#b8173f"/>
<circle cx="155.30" cy="345.60" r="1.22" fill="#b8173f"/>
<circle cx="162.35" cy="348.00" r="1.22" fill="#b8173f"/>
<circle cx="157.65" cy="348.00" r="1.22" fill="#b8173f"/>
<circle cx="160.00" cy="348.00" r="1.22" fill="#b8173f"/>
<circle cx="155.30" cy="350.50" r="1.22" fill="#b8173f"/>
<circle cx="164.70" cy="350.50" r="1.22" fill="#b8173f"/>
<circle cx="160.00" cy="354.60" r="1.22" fill="#b8173f"/>
<circle cx="164.70" cy="354.60" r="1.22" fill="#b8173f"/>
<circle cx="160.00" cy="361.20" r="1.22" fill="#b8173f"/>
<circle cx="177.40" cy="284.80" r="1.22" fill="#b8173f"/>
<circle cx="177.40" cy="289.80" r="1.22" fill="#b8173f"/>
<circle cx="177.40" cy="298.30" r="1.22" fill="#b8173f"/>
<circle cx="172.70" cy="299.80" r="1.22" fill="#b8173f"/>
<circle cx="177.40" cy="310.80" r="1.22" fill="#b8173f"/>
<circle cx="177.40" cy="317.20" r="1.22" fill="#b8173f"/>
<circle cx="177.40" cy="327.00" r="1.22" fill="#b8173f"/>
<circle cx="172.70" cy="327.00" r="1.22" fill="#b8173f"/>
<circle cx="182.10" cy="327.50" r="1.22" fill="#b8173f"/>
<circle cx="175.05" cy="328.50" r="1.22" fill="#b8173f"/>
<circle cx="177.40" cy="334.50" r="1.22" fill="#b8173f"/>
<circle cx="172.70" cy="334.50" r="1.22" fill="#b8173f"/>
<circle cx="182.10" cy="335.70" r="1.22" fill="#b8173f"/>
<circle cx="175.05" cy="336.00" r="1.22" fill="#b8173f"/>
<circle cx="177.40" cy="343.90" r="1.22" fill="#b8173f"/>
<circle cx="177.40" cy="352.10" r="1.22" fill="#b8173f"/>
<circle cx="182.10" cy="352.10" r="1.22" fill="#b8173f"/>
<circle cx="175.05" cy="354.60" r="1.22" fill="#b8173f"/>
<circle cx="177.40" cy="357.90" r="1.22" fill="#b8173f"/>
<circle cx="172.70" cy="357.90" r="1.22" fill="#b8173f"/>
<circle cx="177.40" cy="377.30" r="1.22" fill="#b8173f"/>
<line x1="125.10" y1="355.40" x2="125.10" y2="364.50" stroke="#1c1c1c" stroke-width="0.9"/>
<line x1="122.40" y1="355.40" x2="127.80" y2="355.40" stroke="#1c1c1c" stroke-width="0.9"/>
<line x1="122.40" y1="364.50" x2="127.80" y2="364.50" stroke="#1c1c1c" stroke-width="0.9"/>
<line x1="119.80" y1="357.90" x2="130.40" y2="357.90" stroke="#1c1c1c" stroke-width="1.0"/>
<line x1="142.40" y1="333.00" x2="142.40" y2="342.00" stroke="#1c1c1c" stroke-width="0.9"/>
<line x1="139.70" y1="333.00" x2="145.10" y2="333.00" stroke="#1c1c1c" stroke-width="0.9"/>
<line x1="139.70" y1="342.00" x2="145.10" y2="342.00" stroke="#1c1c1c" stroke-width="0.9"/>
<line x1="137.20" y1="337.30" x2="147.60" y2="337.30" stroke="#1c1c1c" stroke-width="1.0"/>
<line x1="160.00" y1="326.60" x2="160.00" y2="341.40" stroke="#1c1c1c" stroke-width="0.9"/>
<line x1="157.30" y1="326.60" x2="162.70" y2="326.60" stroke="#1c1c1c" stroke-width="0.9"/>
<line x1="157.30" y1="341.40" x2="162.70" y2="341.40" stroke="#1c1c1c" stroke-width="0.9"/>
<line x1="154.80" y1="334.00" x2="165.20" y2="334.00" stroke="#1c1c1c" stroke-width="1.0"/>
<line x1="177.40" y1="321.70" x2="177.40" y2="341.40" stroke="#1c1c1c" stroke-width="0.9"/>
<line x1="174.70" y1="321.70" x2="180.10" y2="321.70" stroke="#1c1c1c" stroke-width="0.9"/>
<line x1="174.70" y1="341.40" x2="180.10" y2="341.40" stroke="#1c1c1c" stroke-width="0.9"/>
<line x1="172.20" y1="331.60" x2="182.60" y2="331.60" stroke="#1c1c1c" stroke-width="1.0"/>
<line x1="239.90" y1="249.70" x2="239.90" y2="396.80" stroke="#1a1a1a" stroke-width="1.3"/>
<line x1="239.30" y1="396.20" x2="316.10" y2="396.20" stroke="#1a1a1a" stroke-width="1.3"/>
<line x1="236.70" y1="396.00" x2="239.90" y2="396.00" stroke="#1a1a1a" stroke-width="1.0"/>
<text x="233.80" y="399.40" font-size="8.4" text-anchor="end" fill="#383838">0.1</text>
<line x1="238.20" y1="385.21" x2="239.90" y2="385.21" stroke="#1a1a1a" stroke-width="0.7"/>
<line x1="238.20" y1="378.90" x2="239.90" y2="378.90" stroke="#1a1a1a" stroke-width="0.7"/>
<line x1="238.20" y1="374.42" x2="239.90" y2="374.42" stroke="#1a1a1a" stroke-width="0.7"/>
<line x1="238.20" y1="370.94" x2="239.90" y2="370.94" stroke="#1a1a1a" stroke-width="0.7"/>
<line x1="238.20" y1="368.10" x2="239.90" y2="368.10" stroke="#1a1a1a" stroke-width="0.7"/>
<line x1="238.20" y1="365.70" x2="239.90" y2="365.70" stroke="#1a1a1a" stroke-width="0.7"/>
<line x1="238.20" y1="363.62" x2="239.90" y2="363.62" stroke="#1a1a1a" stroke-width="0.7"/>
<line x1="238.20" y1="361.79" x2="239.90" y2="361.79" stroke="#1a1a1a" stroke-width="0.7"/>
<line x1="236.70" y1="360.15" x2="239.90" y2="360.15" stroke="#1a1a1a" stroke-width="1.0"/>
<text x="233.80" y="363.55" font-size="8.4" text-anchor="end" fill="#383838">1</text>
<line x1="238.20" y1="349.36" x2="239.90" y2="349.36" stroke="#1a1a1a" stroke-width="0.7"/>
<line x1="238.20" y1="343.05" x2="239.90" y2="343.05" stroke="#1a1a1a" stroke-width="0.7"/>
<line x1="238.20" y1="338.57" x2="239.90" y2="338.57" stroke="#1a1a1a" stroke-width="0.7"/>
<line x1="238.20" y1="335.09" x2="239.90" y2="335.09" stroke="#1a1a1a" stroke-width="0.7"/>
<line x1="238.20" y1="332.25" x2="239.90" y2="332.25" stroke="#1a1a1a" stroke-width="0.7"/>
<line x1="238.20" y1="329.85" x2="239.90" y2="329.85" stroke="#1a1a1a" stroke-width="0.7"/>
<line x1="238.20" y1="327.77" x2="239.90" y2="327.77" stroke="#1a1a1a" stroke-width="0.7"/>
<line x1="238.20" y1="325.94" x2="239.90" y2="325.94" stroke="#1a1a1a" stroke-width="0.7"/>
<line x1="236.70" y1="324.30" x2="239.90" y2="324.30" stroke="#1a1a1a" stroke-width="1.0"/>
<text x="233.80" y="327.70" font-size="8.4" text-anchor="end" fill="#383838">10</text>
<line x1="238.20" y1="313.51" x2="239.90" y2="313.51" stroke="#1a1a1a" stroke-width="0.7"/>
<line x1="238.20" y1="307.20" x2="239.90" y2="307.20" stroke="#1a1a1a" stroke-width="0.7"/>
<line x1="238.20" y1="302.72" x2="239.90" y2="302.72" stroke="#1a1a1a" stroke-width="0.7"/>
<line x1="238.20" y1="299.24" x2="239.90" y2="299.24" stroke="#1a1a1a" stroke-width="0.7"/>
<line x1="238.20" y1="296.40" x2="239.90" y2="296.40" stroke="#1a1a1a" stroke-width="0.7"/>
<line x1="238.20" y1="294.00" x2="239.90" y2="294.00" stroke="#1a1a1a" stroke-width="0.7"/>
<line x1="238.20" y1="291.92" x2="239.90" y2="291.92" stroke="#1a1a1a" stroke-width="0.7"/>
<line x1="238.20" y1="290.09" x2="239.90" y2="290.09" stroke="#1a1a1a" stroke-width="0.7"/>
<line x1="236.70" y1="288.45" x2="239.90" y2="288.45" stroke="#1a1a1a" stroke-width="1.0"/>
<text x="233.80" y="291.85" font-size="8.4" text-anchor="end" fill="#383838">100</text>
<line x1="238.20" y1="277.66" x2="239.90" y2="277.66" stroke="#1a1a1a" stroke-width="0.7"/>
<line x1="238.20" y1="271.35" x2="239.90" y2="271.35" stroke="#1a1a1a" stroke-width="0.7"/>
<line x1="238.20" y1="266.87" x2="239.90" y2="266.87" stroke="#1a1a1a" stroke-width="0.7"/>
<line x1="238.20" y1="263.39" x2="239.90" y2="263.39" stroke="#1a1a1a" stroke-width="0.7"/>
<line x1="238.20" y1="260.55" x2="239.90" y2="260.55" stroke="#1a1a1a" stroke-width="0.7"/>
<line x1="238.20" y1="258.15" x2="239.90" y2="258.15" stroke="#1a1a1a" stroke-width="0.7"/>
<line x1="238.20" y1="256.07" x2="239.90" y2="256.07" stroke="#1a1a1a" stroke-width="0.7"/>
<line x1="238.20" y1="254.24" x2="239.90" y2="254.24" stroke="#1a1a1a" stroke-width="0.7"/>
<line x1="236.70" y1="252.60" x2="239.90" y2="252.60" stroke="#1a1a1a" stroke-width="1.0"/>
<text x="233.80" y="256.00" font-size="8.4" text-anchor="end" fill="#383838">1000</text>
<line x1="251.20" y1="396.20" x2="251.20" y2="399.20" stroke="#1a1a1a" stroke-width="1.0"/>
<text x="254.90" y="406.00" font-size="8.3" text-anchor="end" fill="#383838" transform="rotate(-45 254.90 406.00)" stroke="#2a2a2a" stroke-width="0.18">HC</text>
<line x1="268.90" y1="396.20" x2="268.90" y2="399.20" stroke="#1a1a1a" stroke-width="1.0"/>
<text x="272.60" y="406.00" font-size="8.3" text-anchor="end" fill="#383838" transform="rotate(-45 272.60 406.00)" stroke="#2a2a2a" stroke-width="0.18">wAIHA</text>
<line x1="286.50" y1="396.20" x2="286.50" y2="399.20" stroke="#1a1a1a" stroke-width="1.0"/>
<text x="290.20" y="406.00" font-size="8.3" text-anchor="end" fill="#383838" transform="rotate(-45 290.20 406.00)" stroke="#2a2a2a" stroke-width="0.18">nt-wAIHA</text>
<line x1="303.80" y1="396.20" x2="303.80" y2="399.20" stroke="#1a1a1a" stroke-width="1.0"/>
<text x="307.50" y="406.00" font-size="8.3" text-anchor="end" fill="#383838" transform="rotate(-45 307.50 406.00)" stroke="#2a2a2a" stroke-width="0.18">t-wAIHA</text>
<text x="208.00" y="323.00" font-size="7.9" text-anchor="middle" fill="#1a1a1a" transform="rotate(-90 208.00 323.00)" textLength="35.0" lengthAdjust="spacingAndGlyphs" stroke="#1a1a1a" stroke-width="0.25">pg/mL IL-6</text>
<line x1="251.20" y1="229.50" x2="303.80" y2="229.50" stroke="#222" stroke-width="1.1"/>
<circle cx="277.50" cy="226.50" r="1.25" fill="#262626"/>
<line x1="251.20" y1="240.50" x2="286.50" y2="240.50" stroke="#222" stroke-width="1.1"/>
<text x="268.85" y="238.70" font-size="7.7" text-anchor="middle" fill="#383838">ns</text>
<line x1="251.20" y1="251.30" x2="268.90" y2="251.30" stroke="#222" stroke-width="1.1"/>
<circle cx="260.05" cy="248.30" r="1.25" fill="#262626"/>
<circle cx="251.50" cy="311.80" r="1.22" fill="#173a63"/>
<circle cx="251.50" cy="314.00" r="1.22" fill="#173a63"/>
<circle cx="251.50" cy="317.00" r="1.22" fill="#173a63"/>
<circle cx="251.50" cy="320.00" r="1.22" fill="#173a63"/>
<circle cx="251.50" cy="324.50" r="1.22" fill="#173a63"/>
<circle cx="251.50" cy="329.00" r="1.22" fill="#173a63"/>
<circle cx="251.50" cy="334.30" r="1.22" fill="#173a63"/>
<circle cx="251.50" cy="336.00" r="1.22" fill="#173a63"/>
<circle cx="251.50" cy="337.80" r="1.22" fill="#173a63"/>
<circle cx="251.50" cy="339.50" r="1.22" fill="#173a63"/>
<circle cx="251.50" cy="341.80" r="1.22" fill="#173a63"/>
<circle cx="251.50" cy="349.60" r="1.22" fill="#173a63"/>
<circle cx="251.50" cy="359.60" r="1.22" fill="#173a63"/>
<circle cx="251.50" cy="363.30" r="1.22" fill="#173a63"/>
<circle cx="251.50" cy="365.60" r="1.22" fill="#173a63"/>
<circle cx="247.00" cy="382.70" r="1.22" fill="#173a63"/>
<circle cx="248.12" cy="382.70" r="1.22" fill="#173a63"/>
<circle cx="249.25" cy="382.70" r="1.22" fill="#173a63"/>
<circle cx="250.38" cy="382.70" r="1.22" fill="#173a63"/>
<circle cx="251.50" cy="382.70" r="1.22" fill="#173a63"/>
<circle cx="252.62" cy="382.70" r="1.22" fill="#173a63"/>
<circle cx="253.75" cy="382.70" r="1.22" fill="#173a63"/>
<circle cx="254.88" cy="382.70" r="1.22" fill="#173a63"/>
<circle cx="256.00" cy="382.70" r="1.22" fill="#173a63"/>
<circle cx="269.20" cy="284.50" r="1.22" fill="#b8173f"/>
<circle cx="269.20" cy="293.30" r="1.22" fill="#b8173f"/>
<circle cx="269.20" cy="295.00" r="1.22" fill="#b8173f"/>
<circle cx="269.20" cy="299.60" r="1.22" fill="#b8173f"/>
<circle cx="269.20" cy="302.60" r="1.22" fill="#b8173f"/>
<circle cx="269.20" cy="307.90" r="1.22" fill="#b8173f"/>
<circle cx="269.20" cy="311.60" r="1.22" fill="#b8173f"/>
<circle cx="269.20" cy="313.10" r="1.22" fill="#b8173f"/>
<circle cx="269.20" cy="315.40" r="1.22" fill="#b8173f"/>
<circle cx="269.20" cy="316.90" r="1.22" fill="#b8173f"/>
<circle cx="269.20" cy="319.20" r="1.22" fill="#b8173f"/>
<circle cx="269.20" cy="322.90" r="1.22" fill="#b8173f"/>
<circle cx="269.20" cy="324.40" r="1.22" fill="#b8173f"/>
<circle cx="269.20" cy="326.70" r="1.22" fill="#b8173f"/>
<circle cx="269.20" cy="329.00" r="1.22" fill="#b8173f"/>
<circle cx="269.20" cy="332.00" r="1.22" fill="#b8173f"/>
<circle cx="269.20" cy="333.50" r="1.22" fill="#b8173f"/>
<circle cx="269.20" cy="336.00" r="1.22" fill="#b8173f"/>
<circle cx="269.20" cy="338.00" r="1.22" fill="#b8173f"/>
<circle cx="269.20" cy="341.00" r="1.22" fill="#b8173f"/>
<circle cx="269.20" cy="345.00" r="1.22" fill="#b8173f"/>
<circle cx="269.20" cy="349.00" r="1.22" fill="#b8173f"/>
<circle cx="269.20" cy="364.00" r="1.22" fill="#b8173f"/>
<circle cx="269.20" cy="368.10" r="1.22" fill="#b8173f"/>
<circle cx="269.20" cy="369.70" r="1.22" fill="#b8173f"/>
<circle cx="264.20" cy="382.70" r="1.22" fill="#b8173f"/>
<circle cx="265.38" cy="382.70" r="1.22" fill="#b8173f"/>
<circle cx="266.55" cy="382.70" r="1.22" fill="#b8173f"/>
<circle cx="267.73" cy="382.70" r="1.22" fill="#b8173f"/>
<circle cx="268.90" cy="382.70" r="1.22" fill="#b8173f"/>
<circle cx="270.07" cy="382.70" r="1.22" fill="#b8173f"/>
<circle cx="271.25" cy="382.70" r="1.22" fill="#b8173f"/>
<circle cx="272.43" cy="382.70" r="1.22" fill="#b8173f"/>
<circle cx="273.60" cy="382.70" r="1.22" fill="#b8173f"/>
<circle cx="286.70" cy="284.50" r="1.22" fill="#b8173f"/>
<circle cx="288.50" cy="301.80" r="1.22" fill="#b8173f"/>
<circle cx="286.70" cy="303.80" r="1.22" fill="#b8173f"/>
<circle cx="286.70" cy="308.60" r="1.22" fill="#b8173f"/>
<circle cx="286.70" cy="312.40" r="1.22" fill="#b8173f"/>
<circle cx="286.70" cy="316.10" r="1.22" fill="#b8173f"/>
<circle cx="286.70" cy="324.40" r="1.22" fill="#b8173f"/>
<circle cx="286.70" cy="326.70" r="1.22" fill="#b8173f"/>
<circle cx="286.70" cy="328.20" r="1.22" fill="#b8173f"/>
<circle cx="286.70" cy="332.70" r="1.22" fill="#b8173f"/>
<circle cx="286.70" cy="333.20" r="1.22" fill="#b8173f"/>
<circle cx="286.70" cy="337.30" r="1.22" fill="#b8173f"/>
<circle cx="286.70" cy="350.30" r="1.22" fill="#b8173f"/>
<circle cx="284.00" cy="347.80" r="1.22" fill="#b8173f"/>
<circle cx="284.00" cy="364.00" r="1.22" fill="#b8173f"/>
<circle cx="289.00" cy="367.30" r="1.22" fill="#b8173f"/>
<circle cx="286.70" cy="369.70" r="1.22" fill="#b8173f"/>
<circle cx="281.70" cy="382.70" r="1.22" fill="#b8173f"/>
<circle cx="283.90" cy="382.70" r="1.22" fill="#b8173f"/>
<circle cx="286.10" cy="382.70" r="1.22" fill="#b8173f"/>
<circle cx="288.30" cy="382.70" r="1.22" fill="#b8173f"/>
<circle cx="290.50" cy="382.70" r="1.22" fill="#b8173f"/>
<circle cx="302.30" cy="293.30" r="1.22" fill="#b8173f"/>
<circle cx="305.30" cy="293.30" r="1.22" fill="#b8173f"/>
<circle cx="303.80" cy="299.60" r="1.22" fill="#b8173f"/>
<circle cx="303.80" cy="308.60" r="1.22" fill="#b8173f"/>
<circle cx="303.80" cy="313.90" r="1.22" fill="#b8173f"/>
<circle cx="303.80" cy="317.60" r="1.22" fill="#b8173f"/>
<circle cx="303.80" cy="322.20" r="1.22" fill="#b8173f"/>
<circle cx="303.80" cy="328.20" r="1.22" fill="#b8173f"/>
<circle cx="303.80" cy="330.80" r="1.22" fill="#b8173f"/>
<circle cx="303.80" cy="334.20" r="1.22" fill="#b8173f"/>
<circle cx="301.30" cy="312.40" r="1.22" fill="#b8173f"/>
<circle cx="306.30" cy="312.40" r="1.22" fill="#b8173f"/>
<circle cx="299.20" cy="382.70" r="1.22" fill="#b8173f"/>
<circle cx="300.70" cy="382.70" r="1.22" fill="#b8173f"/>
<circle cx="302.20" cy="382.70" r="1.22" fill="#b8173f"/>
<circle cx="303.70" cy="382.70" r="1.22" fill="#b8173f"/>
<circle cx="305.20" cy="382.70" r="1.22" fill="#b8173f"/>
<circle cx="306.70" cy="382.70" r="1.22" fill="#b8173f"/>
<circle cx="308.20" cy="382.70" r="1.22" fill="#b8173f"/>
<line x1="251.20" y1="344.40" x2="251.20" y2="363.30" stroke="#1c1c1c" stroke-width="0.9"/>
<line x1="248.50" y1="344.40" x2="253.90" y2="344.40" stroke="#1c1c1c" stroke-width="0.9"/>
<line x1="248.50" y1="363.30" x2="253.90" y2="363.30" stroke="#1c1c1c" stroke-width="0.9"/>
<line x1="245.70" y1="353.70" x2="256.70" y2="353.70" stroke="#1c1c1c" stroke-width="1.0"/>
<line x1="268.90" y1="331.20" x2="268.90" y2="348.60" stroke="#1c1c1c" stroke-width="0.9"/>
<line x1="266.20" y1="331.20" x2="271.60" y2="331.20" stroke="#1c1c1c" stroke-width="0.9"/>
<line x1="266.20" y1="348.60" x2="271.60" y2="348.60" stroke="#1c1c1c" stroke-width="0.9"/>
<line x1="263.70" y1="339.40" x2="274.10" y2="339.40" stroke="#1c1c1c" stroke-width="1.0"/>
<line x1="286.50" y1="329.70" x2="286.50" y2="353.50" stroke="#1c1c1c" stroke-width="0.9"/>
<line x1="283.80" y1="329.70" x2="289.20" y2="329.70" stroke="#1c1c1c" stroke-width="0.9"/>
<line x1="283.80" y1="353.50" x2="289.20" y2="353.50" stroke="#1c1c1c" stroke-width="0.9"/>
<line x1="281.30" y1="340.50" x2="291.70" y2="340.50" stroke="#1c1c1c" stroke-width="1.0"/>
<line x1="303.80" y1="324.40" x2="303.80" y2="351.60" stroke="#1c1c1c" stroke-width="0.9"/>
<line x1="301.10" y1="324.40" x2="306.50" y2="324.40" stroke="#1c1c1c" stroke-width="0.9"/>
<line x1="301.10" y1="351.60" x2="306.50" y2="351.60" stroke="#1c1c1c" stroke-width="0.9"/>
<line x1="298.60" y1="338.10" x2="309.00" y2="338.10" stroke="#1c1c1c" stroke-width="1.0"/>
<line x1="371.00" y1="249.70" x2="371.00" y2="396.80" stroke="#1a1a1a" stroke-width="1.3"/>
<line x1="370.40" y1="396.20" x2="447.80" y2="396.20" stroke="#1a1a1a" stroke-width="1.3"/>
<line x1="367.80" y1="396.20" x2="371.00" y2="396.20" stroke="#1a1a1a" stroke-width="1.0"/>
<text x="364.90" y="399.60" font-size="8.4" text-anchor="end" fill="#383838">10</text>
<line x1="369.30" y1="381.76" x2="371.00" y2="381.76" stroke="#1a1a1a" stroke-width="0.7"/>
<line x1="369.30" y1="373.31" x2="371.00" y2="373.31" stroke="#1a1a1a" stroke-width="0.7"/>
<line x1="369.30" y1="367.32" x2="371.00" y2="367.32" stroke="#1a1a1a" stroke-width="0.7"/>
<line x1="369.30" y1="362.67" x2="371.00" y2="362.67" stroke="#1a1a1a" stroke-width="0.7"/>
<line x1="369.30" y1="358.87" x2="371.00" y2="358.87" stroke="#1a1a1a" stroke-width="0.7"/>
<line x1="369.30" y1="355.66" x2="371.00" y2="355.66" stroke="#1a1a1a" stroke-width="0.7"/>
<line x1="369.30" y1="352.88" x2="371.00" y2="352.88" stroke="#1a1a1a" stroke-width="0.7"/>
<line x1="369.30" y1="350.42" x2="371.00" y2="350.42" stroke="#1a1a1a" stroke-width="0.7"/>
<line x1="367.80" y1="348.23" x2="371.00" y2="348.23" stroke="#1a1a1a" stroke-width="1.0"/>
<text x="364.90" y="351.63" font-size="8.4" text-anchor="end" fill="#383838">100</text>
<line x1="369.30" y1="333.79" x2="371.00" y2="333.79" stroke="#1a1a1a" stroke-width="0.7"/>
<line x1="369.30" y1="325.34" x2="371.00" y2="325.34" stroke="#1a1a1a" stroke-width="0.7"/>
<line x1="369.30" y1="319.35" x2="371.00" y2="319.35" stroke="#1a1a1a" stroke-width="0.7"/>
<line x1="369.30" y1="314.70" x2="371.00" y2="314.70" stroke="#1a1a1a" stroke-width="0.7"/>
<line x1="369.30" y1="310.90" x2="371.00" y2="310.90" stroke="#1a1a1a" stroke-width="0.7"/>
<line x1="369.30" y1="307.69" x2="371.00" y2="307.69" stroke="#1a1a1a" stroke-width="0.7"/>
<line x1="369.30" y1="304.91" x2="371.00" y2="304.91" stroke="#1a1a1a" stroke-width="0.7"/>
<line x1="369.30" y1="302.45" x2="371.00" y2="302.45" stroke="#1a1a1a" stroke-width="0.7"/>
<line x1="367.80" y1="300.26" x2="371.00" y2="300.26" stroke="#1a1a1a" stroke-width="1.0"/>
<text x="364.90" y="303.66" font-size="8.4" text-anchor="end" fill="#383838">1000</text>
<line x1="369.30" y1="285.82" x2="371.00" y2="285.82" stroke="#1a1a1a" stroke-width="0.7"/>
<line x1="369.30" y1="277.37" x2="371.00" y2="277.37" stroke="#1a1a1a" stroke-width="0.7"/>
<line x1="369.30" y1="271.38" x2="371.00" y2="271.38" stroke="#1a1a1a" stroke-width="0.7"/>
<line x1="369.30" y1="266.73" x2="371.00" y2="266.73" stroke="#1a1a1a" stroke-width="0.7"/>
<line x1="369.30" y1="262.93" x2="371.00" y2="262.93" stroke="#1a1a1a" stroke-width="0.7"/>
<line x1="369.30" y1="259.72" x2="371.00" y2="259.72" stroke="#1a1a1a" stroke-width="0.7"/>
<line x1="369.30" y1="256.94" x2="371.00" y2="256.94" stroke="#1a1a1a" stroke-width="0.7"/>
<line x1="369.30" y1="254.48" x2="371.00" y2="254.48" stroke="#1a1a1a" stroke-width="0.7"/>
<line x1="367.80" y1="252.29" x2="371.00" y2="252.29" stroke="#1a1a1a" stroke-width="1.0"/>
<text x="364.90" y="255.69" font-size="8.4" text-anchor="end" fill="#383838">10000</text>
<line x1="382.40" y1="396.20" x2="382.40" y2="399.20" stroke="#1a1a1a" stroke-width="1.0"/>
<text x="386.10" y="406.00" font-size="8.3" text-anchor="end" fill="#383838" transform="rotate(-45 386.10 406.00)" stroke="#2a2a2a" stroke-width="0.18">HC</text>
<line x1="400.00" y1="396.20" x2="400.00" y2="399.20" stroke="#1a1a1a" stroke-width="1.0"/>
<text x="403.70" y="406.00" font-size="8.3" text-anchor="end" fill="#383838" transform="rotate(-45 403.70 406.00)" stroke="#2a2a2a" stroke-width="0.18">wAIHA</text>
<line x1="417.50" y1="396.20" x2="417.50" y2="399.20" stroke="#1a1a1a" stroke-width="1.0"/>
<text x="421.20" y="406.00" font-size="8.3" text-anchor="end" fill="#383838" transform="rotate(-45 421.20 406.00)" stroke="#2a2a2a" stroke-width="0.18">nt-wAIHA</text>
<line x1="435.10" y1="396.20" x2="435.10" y2="399.20" stroke="#1a1a1a" stroke-width="1.0"/>
<text x="438.80" y="406.00" font-size="8.3" text-anchor="end" fill="#383838" transform="rotate(-45 438.80 406.00)" stroke="#2a2a2a" stroke-width="0.18">t-wAIHA</text>
<text x="334.20" y="322.40" font-size="7.9" text-anchor="middle" fill="#1a1a1a" transform="rotate(-90 334.20 322.40)" textLength="37.5" lengthAdjust="spacingAndGlyphs" stroke="#1a1a1a" stroke-width="0.25">pg/mL MDC</text>
<line x1="382.40" y1="229.50" x2="435.10" y2="229.50" stroke="#222" stroke-width="1.1"/>
<circle cx="408.75" cy="226.50" r="1.25" fill="#262626"/>
<line x1="382.40" y1="240.50" x2="417.50" y2="240.50" stroke="#222" stroke-width="1.1"/>
<circle cx="399.95" cy="237.50" r="1.25" fill="#262626"/>
<line x1="382.40" y1="251.30" x2="400.00" y2="251.30" stroke="#222" stroke-width="1.1"/>
<circle cx="389.52" cy="248.30" r="1.25" fill="#262626"/>
<circle cx="392.88" cy="248.30" r="1.25" fill="#262626"/>
<circle cx="382.40" cy="301.90" r="1.22" fill="#173a63"/>
<circle cx="379.40" cy="303.80" r="1.22" fill="#173a63"/>
<circle cx="382.40" cy="305.30" r="1.22" fill="#173a63"/>
<circle cx="379.40" cy="307.50" r="1.22" fill="#173a63"/>
<circle cx="385.40" cy="307.50" r="1.22" fill="#173a63"/>
<circle cx="382.40" cy="307.50" r="1.22" fill="#173a63"/>
<circle cx="383.90" cy="307.50" r="1.22" fill="#173a63"/>
<circle cx="380.90" cy="309.30" r="1.22" fill="#173a63"/>
<circle cx="382.40" cy="312.12" r="1.22" fill="#173a63"/>
<circle cx="379.40" cy="312.90" r="1.22" fill="#173a63"/>
<circle cx="385.40" cy="313.06" r="1.22" fill="#173a63"/>
<circle cx="382.40" cy="313.75" r="1.22" fill="#173a63"/>
<circle cx="377.90" cy="314.00" r="1.22" fill="#173a63"/>
<circle cx="386.90" cy="314.33" r="1.22" fill="#173a63"/>
<circle cx="383.90" cy="314.41" r="1.22" fill="#173a63"/>
<circle cx="380.90" cy="314.66" r="1.22" fill="#173a63"/>
<circle cx="385.40" cy="314.88" r="1.22" fill="#173a63"/>
<circle cx="382.40" cy="315.18" r="1.22" fill="#173a63"/>
<circle cx="379.40" cy="315.40" r="1.22" fill="#173a63"/>
<circle cx="377.90" cy="315.86" r="1.22" fill="#173a63"/>
<circle cx="383.90" cy="316.05" r="1.22" fill="#173a63"/>
<circle cx="386.90" cy="316.51" r="1.22" fill="#173a63"/>
<circle cx="380.90" cy="316.84" r="1.22" fill="#173a63"/>
<circle cx="382.40" cy="317.09" r="1.22" fill="#173a63"/>
<circle cx="385.40" cy="317.51" r="1.22" fill="#173a63"/>
<circle cx="382.40" cy="320.40" r="1.22" fill="#173a63"/>
<circle cx="385.40" cy="321.60" r="1.22" fill="#173a63"/>
<circle cx="379.40" cy="321.60" r="1.22" fill="#173a63"/>
<circle cx="382.40" cy="323.80" r="1.22" fill="#173a63"/>
<circle cx="382.40" cy="326.70" r="1.22" fill="#173a63"/>
<circle cx="385.40" cy="327.50" r="1.22" fill="#173a63"/>
<circle cx="382.40" cy="333.90" r="1.22" fill="#173a63"/>
<circle cx="382.40" cy="345.90" r="1.22" fill="#173a63"/>
<circle cx="400.00" cy="255.80" r="1.22" fill="#b8173f"/>
<circle cx="400.00" cy="267.00" r="1.22" fill="#b8173f"/>
<circle cx="400.00" cy="287.80" r="1.22" fill="#b8173f"/>
<circle cx="400.00" cy="297.90" r="1.22" fill="#b8173f"/>
<circle cx="403.00" cy="300.20" r="1.22" fill="#b8173f"/>
<circle cx="400.00" cy="306.00" r="1.22" fill="#b8173f"/>
<circle cx="403.00" cy="306.20" r="1.22" fill="#b8173f"/>
<circle cx="400.00" cy="309.07" r="1.22" fill="#b8173f"/>
<circle cx="403.00" cy="310.41" r="1.22" fill="#b8173f"/>
<circle cx="398.50" cy="311.65" r="1.22" fill="#b8173f"/>
<circle cx="401.50" cy="311.96" r="1.22" fill="#b8173f"/>
<circle cx="400.00" cy="313.02" r="1.22" fill="#b8173f"/>
<circle cx="403.00" cy="313.76" r="1.22" fill="#b8173f"/>
<circle cx="397.00" cy="314.97" r="1.22" fill="#b8173f"/>
<circle cx="400.00" cy="315.81" r="1.22" fill="#b8173f"/>
<circle cx="403.00" cy="316.62" r="1.22" fill="#b8173f"/>
<circle cx="397.00" cy="317.84" r="1.22" fill="#b8173f"/>
<circle cx="400.00" cy="318.48" r="1.22" fill="#b8173f"/>
<circle cx="403.00" cy="319.05" r="1.22" fill="#b8173f"/>
<circle cx="398.50" cy="319.97" r="1.22" fill="#b8173f"/>
<circle cx="401.50" cy="321.08" r="1.22" fill="#b8173f"/>
<circle cx="397.00" cy="322.01" r="1.22" fill="#b8173f"/>
<circle cx="400.00" cy="322.48" r="1.22" fill="#b8173f"/>
<circle cx="403.00" cy="323.89" r="1.22" fill="#b8173f"/>
<circle cx="398.50" cy="324.45" r="1.22" fill="#b8173f"/>
<circle cx="401.50" cy="325.63" r="1.22" fill="#b8173f"/>
<circle cx="397.00" cy="325.91" r="1.22" fill="#b8173f"/>
<circle cx="400.00" cy="327.00" r="1.22" fill="#b8173f"/>
<circle cx="403.00" cy="327.62" r="1.22" fill="#b8173f"/>
<circle cx="397.00" cy="328.86" r="1.22" fill="#b8173f"/>
<circle cx="400.00" cy="329.60" r="1.22" fill="#b8173f"/>
<circle cx="403.00" cy="330.56" r="1.22" fill="#b8173f"/>
<circle cx="398.50" cy="331.34" r="1.22" fill="#b8173f"/>
<circle cx="401.50" cy="332.78" r="1.22" fill="#b8173f"/>
<circle cx="397.00" cy="333.48" r="1.22" fill="#b8173f"/>
<circle cx="400.00" cy="334.11" r="1.22" fill="#b8173f"/>
<circle cx="403.00" cy="335.13" r="1.22" fill="#b8173f"/>
<circle cx="398.50" cy="335.74" r="1.22" fill="#b8173f"/>
<circle cx="401.50" cy="337.29" r="1.22" fill="#b8173f"/>
<circle cx="397.00" cy="338.14" r="1.22" fill="#b8173f"/>
<circle cx="400.00" cy="338.73" r="1.22" fill="#b8173f"/>
<circle cx="403.00" cy="339.25" r="1.22" fill="#b8173f"/>
<circle cx="398.50" cy="340.70" r="1.22" fill="#b8173f"/>
<circle cx="400.00" cy="345.50" r="1.22" fill="#b8173f"/>
<circle cx="403.00" cy="345.50" r="1.22" fill="#b8173f"/>
<circle cx="397.00" cy="345.50" r="1.22" fill="#b8173f"/>
<circle cx="401.50" cy="346.50" r="1.22" fill="#b8173f"/>
<circle cx="398.50" cy="348.00" r="1.22" fill="#b8173f"/>
<circle cx="401.50" cy="349.50" r="1.22" fill="#b8173f"/>
<circle cx="398.50" cy="351.70" r="1.22" fill="#b8173f"/>
<circle cx="403.00" cy="351.70" r="1.22" fill="#b8173f"/>
<circle cx="400.00" cy="354.50" r="1.22" fill="#b8173f"/>
<circle cx="400.00" cy="361.80" r="1.22" fill="#b8173f"/>
<circle cx="400.00" cy="368.50" r="1.22" fill="#b8173f"/>
<circle cx="400.00" cy="373.60" r="1.22" fill="#b8173f"/>
<circle cx="417.50" cy="267.00" r="1.22" fill="#b8173f"/>
<circle cx="417.50" cy="297.50" r="1.22" fill="#b8173f"/>
<circle cx="422.20" cy="299.00" r="1.22" fill="#b8173f"/>
<circle cx="417.50" cy="312.00" r="1.22" fill="#b8173f"/>
<circle cx="422.20" cy="312.00" r="1.22" fill="#b8173f"/>
<circle cx="415.15" cy="315.00" r="1.22" fill="#b8173f"/>
<circle cx="419.85" cy="315.00" r="1.22" fill="#b8173f"/>
<circle cx="417.50" cy="315.00" r="1.22" fill="#b8173f"/>
<circle cx="417.50" cy="319.60" r="1.22" fill="#b8173f"/>
<circle cx="412.80" cy="319.60" r="1.22" fill="#b8173f"/>
<circle cx="417.50" cy="326.40" r="1.22" fill="#b8173f"/>
<circle cx="412.80" cy="326.40" r="1.22" fill="#b8173f"/>
<circle cx="417.50" cy="333.90" r="1.22" fill="#b8173f"/>
<circle cx="412.80" cy="333.90" r="1.22" fill="#b8173f"/>
<circle cx="417.50" cy="340.30" r="1.22" fill="#b8173f"/>
<circle cx="417.50" cy="346.60" r="1.22" fill="#b8173f"/>
<circle cx="422.20" cy="347.30" r="1.22" fill="#b8173f"/>
<circle cx="415.15" cy="348.80" r="1.22" fill="#b8173f"/>
<circle cx="417.50" cy="352.10" r="1.22" fill="#b8173f"/>
<circle cx="435.10" cy="255.80" r="1.22" fill="#b8173f"/>
<circle cx="435.10" cy="287.80" r="1.22" fill="#b8173f"/>
<circle cx="435.10" cy="301.00" r="1.22" fill="#b8173f"/>
<circle cx="435.10" cy="306.20" r="1.22" fill="#b8173f"/>
<circle cx="439.80" cy="306.20" r="1.22" fill="#b8173f"/>
<circle cx="435.10" cy="314.30" r="1.22" fill="#b8173f"/>
<circle cx="439.80" cy="314.30" r="1.22" fill="#b8173f"/>
<circle cx="430.40" cy="314.30" r="1.22" fill="#b8173f"/>
<circle cx="435.10" cy="318.00" r="1.22" fill="#b8173f"/>
<circle cx="430.40" cy="318.00" r="1.22" fill="#b8173f"/>
<circle cx="435.10" cy="327.90" r="1.22" fill="#b8173f"/>
<circle cx="435.10" cy="331.60" r="1.22" fill="#b8173f"/>
<circle cx="439.80" cy="331.60" r="1.22" fill="#b8173f"/>
<circle cx="435.10" cy="345.50" r="1.22" fill="#b8173f"/>
<circle cx="439.80" cy="346.60" r="1.22" fill="#b8173f"/>
<circle cx="430.40" cy="346.60" r="1.22" fill="#b8173f"/>
<circle cx="435.10" cy="351.50" r="1.22" fill="#b8173f"/>
<circle cx="435.10" cy="368.50" r="1.22" fill="#b8173f"/>
<circle cx="435.10" cy="373.60" r="1.22" fill="#b8173f"/>
<line x1="382.40" y1="311.00" x2="382.40" y2="319.50" stroke="#1c1c1c" stroke-width="0.9"/>
<line x1="379.70" y1="311.00" x2="385.10" y2="311.00" stroke="#1c1c1c" stroke-width="0.9"/>
<line x1="379.70" y1="319.50" x2="385.10" y2="319.50" stroke="#1c1c1c" stroke-width="0.9"/>
<line x1="376.90" y1="315.30" x2="387.90" y2="315.30" stroke="#1c1c1c" stroke-width="1.0"/>
<line x1="400.00" y1="318.00" x2="400.00" y2="330.00" stroke="#1c1c1c" stroke-width="0.9"/>
<line x1="397.30" y1="318.00" x2="402.70" y2="318.00" stroke="#1c1c1c" stroke-width="0.9"/>
<line x1="397.30" y1="330.00" x2="402.70" y2="330.00" stroke="#1c1c1c" stroke-width="0.9"/>
<line x1="394.80" y1="324.10" x2="405.20" y2="324.10" stroke="#1c1c1c" stroke-width="1.0"/>
<line x1="417.50" y1="317.30" x2="417.50" y2="330.90" stroke="#1c1c1c" stroke-width="0.9"/>
<line x1="414.80" y1="317.30" x2="420.20" y2="317.30" stroke="#1c1c1c" stroke-width="0.9"/>
<line x1="414.80" y1="330.90" x2="420.20" y2="330.90" stroke="#1c1c1c" stroke-width="0.9"/>
<line x1="412.30" y1="322.60" x2="422.70" y2="322.60" stroke="#1c1c1c" stroke-width="1.0"/>
<line x1="435.10" y1="311.70" x2="435.10" y2="336.10" stroke="#1c1c1c" stroke-width="0.9"/>
<line x1="432.40" y1="311.70" x2="437.80" y2="311.70" stroke="#1c1c1c" stroke-width="0.9"/>
<line x1="432.40" y1="336.10" x2="437.80" y2="336.10" stroke="#1c1c1c" stroke-width="0.9"/>
<line x1="429.90" y1="324.80" x2="440.30" y2="324.80" stroke="#1c1c1c" stroke-width="1.0"/>
</svg>
</body></html>
